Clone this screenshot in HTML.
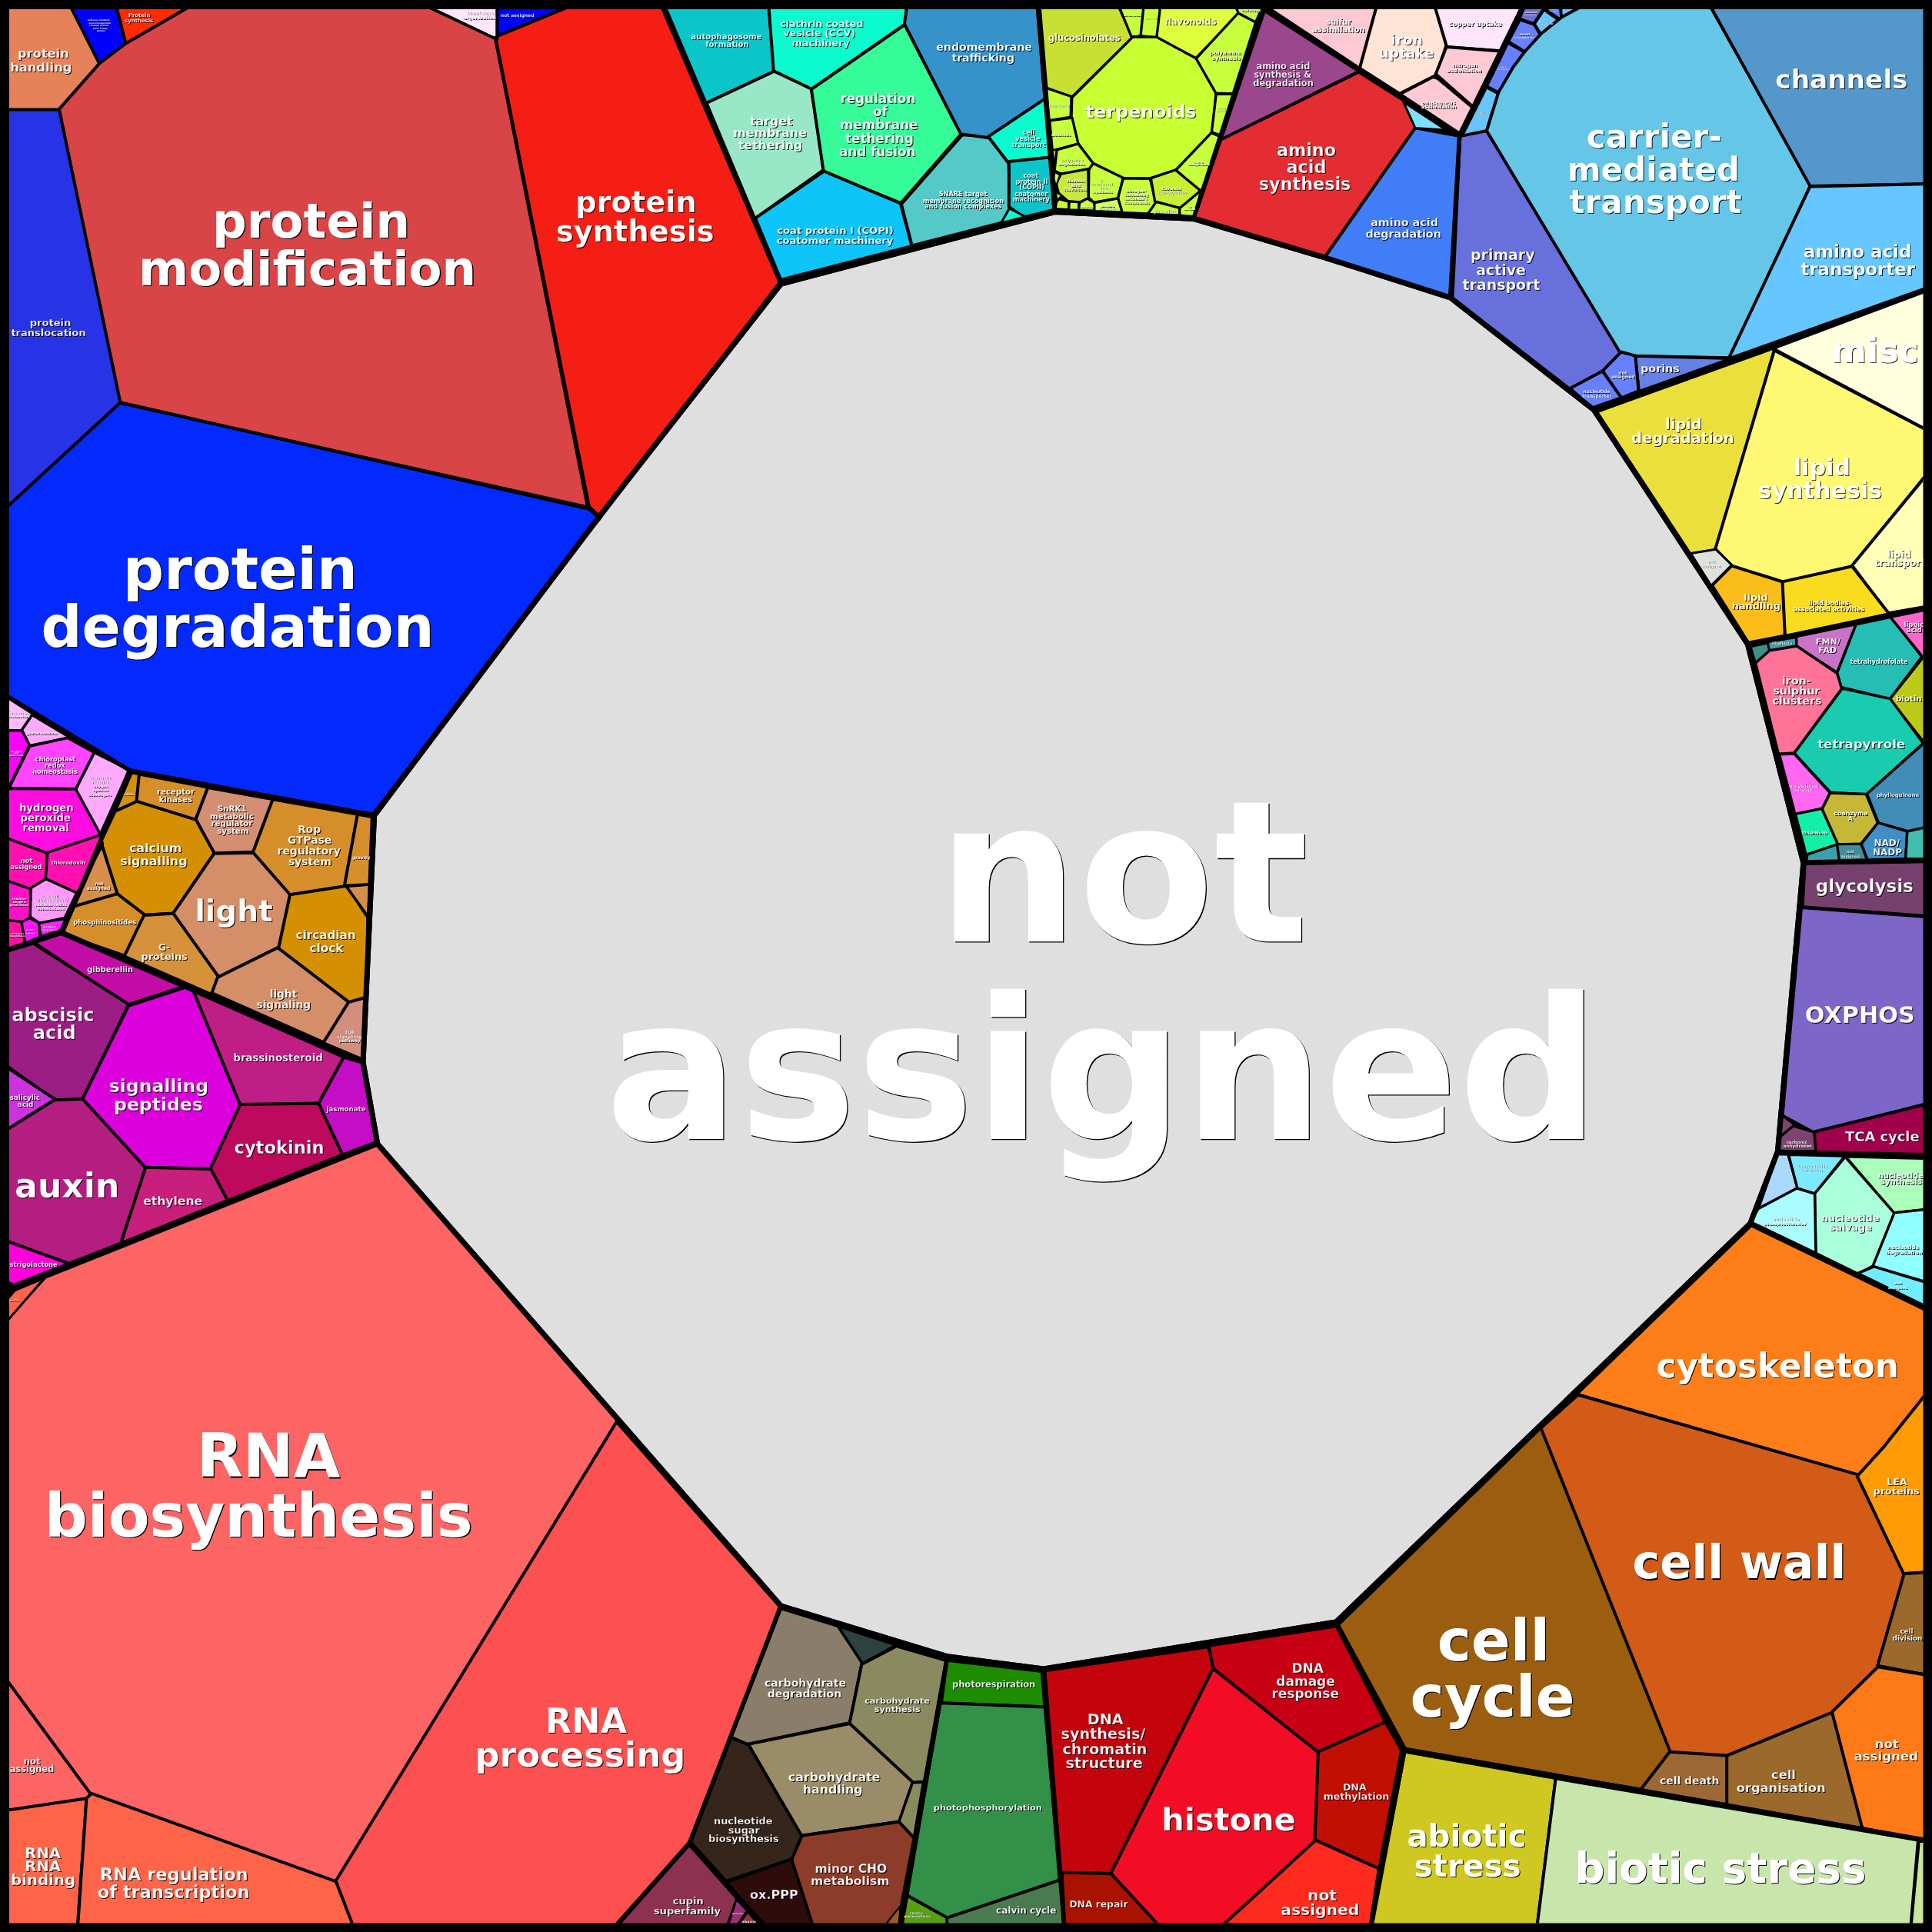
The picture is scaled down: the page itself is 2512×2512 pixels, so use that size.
<!DOCTYPE html><html><head><meta charset="utf-8"><title>treemap</title><style>html,body{margin:0;padding:0;background:#000}svg{display:block;will-change:transform}text{font-family:"DejaVu Sans","Liberation Sans",sans-serif;font-weight:bold}</style></head><body>
<svg width="2512" height="2512" viewBox="0 0 2512 2512">
<defs><clipPath id="c"><rect x="12" y="12" width="2488.5" height="2488.5"/></clipPath></defs>
<rect width="2512" height="2512" fill="#000"/>
<g clip-path="url(#c)" stroke="#000" stroke-linejoin="round">
<polygon fill="#DFDFDF" stroke-width="7" points="1015.5,369 1371.4,275.6 1551.8,284.4 1722.4,334.8 1885.6,386.8 2072.5,533.1 2272.4,837.7 2344.9,1122.1 2311.4,1497.2 2275.7,1590.8 1737.1,2108.9 1356.8,2170 1231.9,2153.8 1015.5,2088.1 490.8,1487.4 472,1381.1 486.6,1060.3 778,673"/>
<polygon fill="#E5825A" stroke-width="4" points="-20,-20 93.19,-20 93.19,10.4 131.821,81.568 77.3088,144 10.4,144 -20,144"/>
<polygon fill="#0000FF" stroke-width="4" points="92.6492,10.4 92.6492,-20 152.661,-20 152.661,10.4 164.766,58.7156 129.981,84.3123"/>
<polygon fill="#FF2A00" stroke-width="4" points="151.83,10.4 151.83,-20 243.923,-20 243.923,10.4 163.817,57.6793"/>
<polygon fill="#D94446" stroke-width="4" points="243.263,10.4 243.263,-20 561.126,-20 561.126,10.4 645.358,47.9943 769.171,664.644 155,523.361 76.54,142.427 129.332,82.4267 163.992,56.2302"/>
<polygon fill="#F51E14" stroke-width="4" points="734.902,10.4 734.902,-20 861.721,-20 861.721,10.4 1013.9,366.986 778.228,675.999 764.759,663.003 643.621,48.1787"/>
<polygon fill="#0000FF" stroke-width="4" points="646.2,10.4 646.2,-20 734.934,-20 734.934,10.5515 646.2,46.8747"/>
<polygon fill="#FFE6FA" stroke-width="4" points="559.892,10.4 559.892,-20 646.3,-20 646.3,10.4 646.3,51.258"/>
<polygon fill="#2833E5" stroke-width="4" points="-20,142.6 10.4,142.6 77.0258,142.6 156.59,524.003 10.4,658.559 -20,658.559"/>
<polygon fill="#0329FC" stroke-width="4" points="156.114,523.72 767.584,660.17 780.673,672.8 485.149,1058.58 169.98,1003.1 10.4,905.421 -20,905.421 -20,658.023 10.4,658.023"/>
<polygon fill="#0CC5C8" stroke-width="4" points="865.483,10.4 865.483,-20 1000.44,-20 1000.44,10.4 1007.21,92.2181 917.869,134.296"/>
<polygon fill="#0BFBCF" stroke-width="4" points="999.644,10.4 999.644,-20 1179.68,-20 1179.68,10.4 1175.93,32.0665 1054.68,116.111 1005.79,92.295"/>
<polygon fill="#98E8C8" stroke-width="4" points="1006.71,92.6888 1055.01,115.646 1071.57,220.313 981.418,284.278 918.615,133.901"/>
<polygon fill="#35FB98" stroke-width="4" points="1176.44,32.1613 1249.6,174.19 1171.38,264.082 1070.89,224.133 1054.94,116.061"/>
<polygon fill="#0DC5F9" stroke-width="4" points="1071.47,222.634 1170.88,264.437 1185.65,320.035 1015.21,363.87 982.133,283.663"/>
<polygon fill="#54C9C8" stroke-width="4" points="1171.9,265.372 1251.25,175.136 1284.59,177.464 1311.58,209.851 1313.31,270.285 1302.84,289.423 1185.66,319.333"/>
<polygon fill="#3593C9" stroke-width="4" points="1178.86,10.4 1178.86,-20 1348.84,-20 1348.84,10.4 1358.89,129.394 1285.79,179.288 1249.19,174.136 1175.93,31.2489"/>
<polygon fill="#0BFBCF" stroke-width="4" points="1359.11,128.047 1365.45,204.944 1311.01,211.829 1285.02,177.619"/>
<polygon fill="#0CC5C8" stroke-width="4" points="1311.9,210.104 1366.79,204.184 1370.18,272.958 1331,282.352 1311.9,269.254"/>
<polygon fill="#0BFBCF" stroke-width="3" points="1312.29,271.008 1333.28,281.635 1301.79,290.058"/>
<polygon fill="#9B478D" stroke-width="4" points="1643.33,13.2341 1767.15,92.8252 1585.75,182.743"/>
<polygon fill="#E42C33" stroke-width="4" points="1766.42,93.6134 1824.76,130.215 1841.81,165.997 1723.2,333.93 1552.45,282.521 1585.97,182.273"/>
<polygon fill="#407DF7" stroke-width="4" points="1840.2,166.196 1898.49,177.158 1887.46,387.908 1722.51,334.266"/>
<polygon fill="#7FDFFF" stroke-width="3" points="1824.59,132.403 1880.8,169.281 1840.11,166.536"/>
<polygon fill="#FFC9D4" stroke-width="4" points="1649.16,10.4 1649.16,-20 1790.13,-20 1790.13,10.4 1768.19,89.2876"/>
<polygon fill="#FFE4D6" stroke-width="4" points="1789.17,10.4 1789.17,-20 1868.67,-20 1868.67,10.4 1880.58,58.5733 1868.05,97.3041 1819.89,121.902 1767.88,88.6943"/>
<polygon fill="#FFE4FA" stroke-width="4" points="1866.13,10.2 1866.13,-20 1978.59,-20 1978.59,10.2 1951.51,66.2948 1881.07,61.0925"/>
<polygon fill="#FFC9D4" stroke-width="4" points="1880.58,60.9898 1951.1,66.5377 1915.34,139.022 1866.73,96.378"/>
<polygon fill="#FFC9D4" stroke-width="4" points="1819.27,122.687 1863.1,99.9244 1869.1,101.732 1915.5,140.339 1897.44,174.693"/>
<polygon fill="#6A6FDC" stroke-width="3.3" points="1981.61,10.55 1981.61,-20 2007.49,-20 2007.49,10.55 1994.17,30.4654 1975.79,24.2975"/>
<polygon fill="#66C6FF" stroke-width="3.3" points="2007.58,12.6673 2027.37,26.8549 2003.98,44.8051 1995.23,31.0768"/>
<polygon fill="#6680FF" stroke-width="3.3" points="2007.45,10.55 2007.45,-20 2028.7,-20 2028.7,10.55 2030.17,26.3839"/>
<polygon fill="#66C6FF" stroke-width="3.3" points="2029.54,10.55 2029.54,-20 2052.71,-20 2052.71,10.55 2030.32,22.9034"/>
<polygon fill="#6680FF" stroke-width="3.3" points="1976.19,26.0077 1994.6,31.9192 2002.84,45.6942 1983.52,67.3201 1961.31,53.9034"/>
<polygon fill="#6680FF" stroke-width="3.3" points="1960.69,55.893 1982.95,68.6469 1948.54,120.158 1933.22,112.008"/>
<polygon fill="#66C6FF" stroke-width="3.3" points="1932.79,113.629 1947.88,121.904 1932.69,170.307 1900.98,177.25"/>
<polygon fill="#6870DC" stroke-width="4" points="1898.38,177.152 1933.08,170.058 2107.52,458.603 2083.52,482.709 2041.52,506.191 1888.45,387.745"/>
<polygon fill="#66C6E8" stroke-width="4" points="2052.5,10.4 2052.5,-20 2224.87,-20 2224.87,10.4 2354.35,240.415 2249.36,465.224 2125.89,462.895 2105.39,456.796 1932.93,170.065 1948.26,120.294 1967.03,87.8955 1982.66,67.0256 2003.52,44.0408 2030.69,22.1266"/>
<polygon fill="#5397CB" stroke-width="4" points="2225.2,10.4 2225.2,-20 2532,-20 2532,239.265 2502.6,239.265 2353.53,241.921"/>
<polygon fill="#66C6FF" stroke-width="4" points="2353.42,242.428 2502.6,239.156 2532,239.156 2532,375.208 2502.6,375.208 2247.43,466.713"/>
<polygon fill="#6680E6" stroke-width="4" points="2125.54,462.749 2252.08,465.981 2131.01,509.119"/>
<polygon fill="#6680FF" stroke-width="4" points="2107.68,457.666 2126.37,462.626 2130.53,508.399 2107.55,517.658 2083.63,482.478"/>
<polygon fill="#6680FF" stroke-width="4" points="2083.51,482.399 2108.16,517.207 2070.46,530.474 2041.41,505.109"/>
<polygon fill="#EBE03B" stroke-width="4" points="2075.93,535.277 2307.91,451.893 2231.77,714.968 2197.74,720.585"/>
<polygon fill="#FFFFDD" stroke-width="4" points="2304.93,453.089 2502.6,379.015 2532,379.015 2532,557.519 2502.6,557.519"/>
<polygon fill="#FFF873" stroke-width="4" points="2306.97,455.4 2502.32,557.746 2532,557.746 2532,605.483 2514.18,605.483 2408.43,736.383 2317.8,758.482 2250.89,735.332 2230.25,713.743"/>
<polygon fill="#FFFFB8" stroke-width="4" points="2532,605.935 2514.4,605.935 2408.06,735.239 2454.54,797.587 2502.49,788.992 2532,788.992"/>
<polygon fill="#E0E0DC" stroke-width="3" points="2198.43,719.484 2230.7,714.198 2251.83,734.568 2225.04,762.013"/>
<polygon fill="#FBBD19" stroke-width="4" points="2226.06,761.016 2251.44,735.63 2318.22,756.503 2322.3,826.339 2273.13,835.618"/>
<polygon fill="#FADC1E" stroke-width="4" points="2317.52,756.413 2408.1,736.273 2456.34,798.291 2320.92,827.147"/>
<polygon fill="#3F8F88" stroke-width="3" points="2276.1,840.775 2298.62,835.924 2301.07,846.356 2282.41,862.019"/>
<polygon fill="#3F9FA8" stroke-width="3" points="2298.33,834.779 2335.7,828.423 2335.7,839.864 2300.51,845.927"/>
<polygon fill="#C873C8" stroke-width="3.5" points="2335.65,827.472 2413.41,811.538 2388.65,874.428 2335.65,840.254"/>
<polygon fill="#26BDB4" stroke-width="3.5" points="2413.21,811.782 2458.4,802.263 2498.91,853.879 2457.4,908.872 2393.58,893.356 2388.56,874.902"/>
<polygon fill="#FF66CC" stroke-width="3.5" points="2457.82,802.363 2502.35,793.256 2532,793.256 2532,857.234 2502.35,857.234"/>
<polygon fill="#BDC919" stroke-width="3.5" points="2502.35,852.183 2532,852.183 2532,966.217 2502.35,966.217 2457.07,909.2"/>
<polygon fill="#FF7399" stroke-width="3.5" points="2282.54,862.098 2300.92,845.754 2336.21,840.062 2388.7,875.602 2394.63,895.538 2332.82,979.102 2312.36,980.226"/>
<polygon fill="#19CCB0" stroke-width="3.5" points="2395.27,895.153 2457.71,908.527 2500.65,966.334 2426.83,1032.89 2379.89,1030.21 2332.93,979.221"/>
<polygon fill="#FF66F2" stroke-width="3.5" points="2313.45,980.632 2332.64,979.921 2379.5,1030.8 2368.87,1052.17 2333.92,1058.41"/>
<polygon fill="#C4B836" stroke-width="3.5" points="2379.64,1030.91 2426.39,1032.59 2441.82,1070.41 2419.54,1097.13 2388.35,1097.88 2368.97,1052.14"/>
<polygon fill="#428CB8" stroke-width="3.5" points="2427.32,1032.21 2502.35,965.398 2532,965.398 2532,1076.3 2502.35,1076.3 2481.35,1081.01 2442.39,1069.85"/>
<polygon fill="#14EFA8" stroke-width="3.5" points="2334.34,1058.36 2368.72,1051.2 2389.59,1097.76 2348.28,1111.34"/>
<polygon fill="#3F8FC6" stroke-width="3.5" points="2441.76,1069.68 2480.03,1081.12 2477.85,1116.6 2428.23,1117.98 2420,1097.41"/>
<polygon fill="#40BFB0" stroke-width="3.5" points="2479.73,1080.97 2502.35,1076.03 2532,1076.03 2532,1116.65 2502.35,1116.65 2477.64,1116.65"/>
<polygon fill="#3F8F98" stroke-width="3" points="2388.7,1097.84 2419.73,1097.18 2427.33,1117.64 2391.39,1118.74"/>
<polygon fill="#3F9FA8" stroke-width="3" points="2350.07,1111.17 2388.44,1097.99 2391.21,1118.66 2348.62,1119.75"/>
<polygon fill="#76416F" stroke-width="4" points="2346.92,1122.73 2502.6,1120.07 2532,1120.07 2532,1190.85 2502.6,1190.85 2343.48,1179.15"/>
<polygon fill="#7C66C8" stroke-width="4" points="2342.09,1180.06 2502.6,1191.74 2532,1191.74 2532,1435.65 2502.6,1435.65 2358.34,1472.63 2317.49,1450.53"/>
<polygon fill="#A0004C" stroke-width="4" points="2359.16,1471.54 2502.6,1436.15 2532,1436.15 2532,1501.15 2502.6,1501.15 2359.85,1497.86"/>
<polygon fill="#7E4470" stroke-width="3" points="2331.56,1464.03 2358.39,1471.95 2360.86,1496.4 2313.04,1496.4 2314.87,1477.94"/>
<polygon fill="#7E4470" stroke-width="3" points="2316.61,1449.86 2333.33,1462.34 2314.55,1477.78"/>
<polygon fill="#AAD8FF" stroke-width="3.5" points="2311.16,1500.65 2324.82,1500.65 2337.26,1544.55 2285.51,1573.49"/>
<polygon fill="#7EE8FF" stroke-width="3.5" points="2325.42,1501.19 2398.53,1503.04 2359.83,1552.23 2336.95,1545.08"/>
<polygon fill="#AAFFBB" stroke-width="3.5" points="2399.51,1503.76 2502.35,1506.19 2532,1506.19 2532,1572.88 2502.35,1572.88 2462.47,1577.04"/>
<polygon fill="#AAFFDD" stroke-width="3.5" points="2399.17,1504.2 2463.02,1577.45 2436.39,1645.66 2415.51,1656.15 2360.77,1629.3 2359.44,1551.78"/>
<polygon fill="#AAFCFF" stroke-width="3.5" points="2336.32,1545.02 2359.63,1552.1 2361,1629.4 2276.49,1588.99 2285.81,1571.6"/>
<polygon fill="#90FFFF" stroke-width="3.5" points="2462.97,1576.87 2502.35,1572.65 2532,1572.65 2532,1666.23 2502.35,1666.23 2434.85,1646.54"/>
<polygon fill="#70EEFF" stroke-width="3.5" points="2436.51,1646.84 2502.35,1666.9 2532,1666.9 2532,1697.59 2502.35,1697.59 2415.44,1655.69"/>
<polygon fill="#FD7E18" stroke-width="4" points="2276.91,1593.29 2502.6,1702.65 2532,1702.65 2532,1816.38 2502.6,1816.38 2449.51,1885.32 2416.08,1918.75 2049.83,1812.76"/>
<polygon fill="#D25B18" stroke-width="4" points="2002.52,1857.44 2051.89,1813.47 2415.91,1917.42 2477.03,2044.72 2442.28,2167.15 2382.43,2227 2244.53,2283.22 2170.31,2278.62"/>
<polygon fill="#9B5E10" stroke-width="4" points="1739.53,2112.81 2003.35,1856.38 2171.68,2277.62 2133.55,2326.57 1825.19,2275.91"/>
<polygon fill="#FF9B05" stroke-width="4" points="2502.6,1814.28 2532,1814.28 2532,2044.5 2502.6,2044.5 2474.97,2045.97 2414.72,1919.45 2448.08,1882.7"/>
<polygon fill="#9B692C" stroke-width="4" points="2475.67,2046.31 2502.6,2044.35 2532,2044.35 2532,2177.31 2502.6,2177.31 2441.17,2165.76"/>
<polygon fill="#FD7A16" stroke-width="4" points="2441.72,2167.26 2502.6,2177.41 2532,2177.41 2532,2391.89 2502.6,2391.89 2420.38,2377.24 2381.68,2226.28"/>
<polygon fill="#9B692C" stroke-width="4" points="2244.4,2283.16 2382.06,2226.48 2421.42,2377.29 2244.4,2347.29"/>
<polygon fill="#9B6836" stroke-width="4" points="2170.76,2277.84 2245.2,2282.62 2245.2,2346.25 2132.28,2328.14"/>
<polygon fill="#CEC820" stroke-width="4" points="1826.5,2277.59 2022.72,2312.06 1998.87,2502.6 1998.87,2532 1784.09,2532 1784.09,2502.6"/>
<polygon fill="#C8E6AC" stroke-width="4" points="2022.68,2312.38 2493.95,2392.64 2484.54,2502.6 2484.54,2532 1998.73,2532 1998.73,2502.6"/>
<polygon fill="#C8E69C" stroke-width="3" points="2495.33,2394.5 2502.1,2394.5 2532,2394.5 2532,2532 2485.35,2532 2485.35,2502.1"/>
<polygon fill="#C4040C" stroke-width="4" points="1358.56,2172.19 1571.21,2141.16 1578.32,2170.24 1445.72,2436.03 1379.25,2434.66"/>
<polygon fill="#C80014" stroke-width="4" points="1571.52,2139.74 1737.52,2114.2 1801.54,2239.25 1714.01,2279.03 1577.58,2169.51"/>
<polygon fill="#F20D24" stroke-width="4" points="1577.11,2169.5 1714.73,2278.96 1711.37,2392.6 1591.58,2502.6 1591.58,2532 1505.43,2532 1505.43,2502.6 1443.79,2436.95"/>
<polygon fill="#C20F04" stroke-width="4" points="1713.95,2277.57 1801.34,2239.04 1822.1,2275.34 1793.2,2430.38 1709.65,2392.37"/>
<polygon fill="#FD2A1E" stroke-width="4" points="1710.72,2392.64 1792.91,2429.5 1781.72,2502.6 1781.72,2532 1590.55,2532 1590.55,2502.6"/>
<polygon fill="#AA1200" stroke-width="4" points="1380.69,2434.54 1444.8,2436.22 1505.96,2502.6 1505.96,2532 1384.1,2532 1384.1,2502.6"/>
<polygon fill="#1E8C00" stroke-width="4" points="1231.49,2158.69 1354.77,2173.11 1358.26,2219.28 1223.82,2214.22"/>
<polygon fill="#329048" stroke-width="4" points="1222.84,2214.13 1358.64,2219.47 1377.73,2444.5 1231.7,2493.38 1178.38,2463.65"/>
<polygon fill="#58A010" stroke-width="3" points="1176.02,2463.38 1230.8,2493.51 1230.8,2502.1 1230.8,2532 1172.46,2532 1172.46,2502.1"/>
<polygon fill="#4A7A50" stroke-width="3.5" points="1378.47,2444.63 1382.99,2502.35 1382.99,2532 1231.45,2532 1231.45,2502.35 1231.45,2493.84"/>
<polygon fill="#8A7E6A" stroke-width="4" points="1015.21,2091.24 1090.89,2114.71 1120.92,2161.5 1104.9,2239.99 972.406,2267.99 950.532,2258.9"/>
<polygon fill="#2C423E" stroke-width="3.5" points="1089.31,2114.21 1165.47,2138.77 1121.53,2163.22"/>
<polygon fill="#8A8A60" stroke-width="4" points="1165.79,2140.26 1229.99,2158.88 1201.8,2316.58 1186.39,2317.76 1104.31,2242.31 1120.33,2163.86"/>
<polygon fill="#9A8C68" stroke-width="4" points="972.678,2267.79 1104.81,2241.04 1186.82,2317.32 1169.09,2368.51 1041.34,2386.77"/>
<polygon fill="#8A8A60" stroke-width="3.5" points="1186.43,2317.93 1200.59,2317.01 1188.23,2390.03 1168.81,2368.71"/>
<polygon fill="#36251A" stroke-width="4" points="950.267,2259.07 973.288,2268.61 1042.43,2387.05 1030,2417.1 944.303,2446.01 898.091,2395.44"/>
<polygon fill="#8E3C2A" stroke-width="4" points="1042.71,2386.68 1168.95,2368.77 1188.55,2389.78 1172.78,2472.6 1169.39,2502.6 1169.39,2532 1055.64,2532 1055.64,2502.6 1028.97,2418.59"/>
<polygon fill="#2E0C0C" stroke-width="4" points="944.825,2447.08 1029.07,2417.12 1056.54,2502.6 1056.54,2532 991.164,2532 991.164,2502.6"/>
<polygon fill="#A05A2A" stroke-width="2.5" points="1160.12,2491.03 1170.79,2478.25 1168.75,2501.85 1168.75,2532 1152.12,2532 1152.12,2501.85"/>
<polygon fill="#8C3250" stroke-width="4" points="896.197,2398.49 958.586,2468.66 946.303,2502.6 946.303,2532 803.956,2532 803.956,2502.6"/>
<polygon fill="#963270" stroke-width="3" points="957.441,2469.12 971.616,2484.15 959.396,2502.2 959.396,2532 946.951,2532 946.951,2502.2"/>
<polygon fill="#963240" stroke-width="3" points="972.199,2485.57 986.345,2502.2 986.345,2532 960.28,2532 960.28,2502.2"/>
<polygon fill="#FD6464" stroke-width="4" points="58.9351,1660.61 491.379,1488.32 804.471,1848.79 438.057,2447.13 117.351,2332.58 10.4,2186.96 -20,2186.96 -20,1713.52 10.4,1713.52"/>
<polygon fill="#FD6464" stroke-width="4" points="-20,2186.71 10.4,2186.71 117.855,2332.56 113.254,2339.25 10.4,2354.42 -20,2354.42"/>
<polygon fill="#FD6448" stroke-width="4" points="-20,2353.58 10.4,2353.58 112.672,2338.35 100.962,2502.6 100.962,2532 -20,2532"/>
<polygon fill="#FD6448" stroke-width="4" points="112.458,2338.18 119.122,2331.9 437.122,2446.42 459.657,2502.6 459.657,2532 101.259,2532 101.259,2502.6"/>
<polygon fill="#FD5050" stroke-width="4" points="801.707,1848.65 1013.89,2088.98 950.066,2260.12 896.229,2395.36 801.2,2502.6 801.2,2532 458.526,2532 458.526,2502.6 436.579,2445.5"/>
<polygon fill="#FF6448" stroke-width="3" points="-20,1687.54 10.9,1687.54 19.6011,1677.55 57.8019,1661.79 10.9,1715.71 -20,1715.71"/>
<polygon fill="#C40DA6" stroke-width="4" points="44.3448,1225.68 79.599,1214.16 238.353,1282.87 166.201,1306.3"/>
<polygon fill="#9C1E84" stroke-width="4" points="-20,1236.31 10.4,1236.31 43.4082,1226.52 167.371,1305.87 108.095,1428.92 72.3193,1431.24 10.4,1387.13 -20,1387.13"/>
<polygon fill="#CC33DD" stroke-width="4" points="-20,1388.78 10.4,1388.78 72.5788,1429.94 10.4,1469.33 -20,1469.33"/>
<polygon fill="#DC00DC" stroke-width="4" points="166.979,1307.96 240.618,1283.76 253.447,1289.61 313.583,1434.85 274.266,1519.73 188.314,1517.98 106.494,1430.25"/>
<polygon fill="#BE1E85" stroke-width="4" points="251.467,1288.58 447.493,1374.64 414.702,1435.18 312.368,1436.82"/>
<polygon fill="#C40DC4" stroke-width="4" points="446.917,1374.52 471.461,1381.84 489.15,1484.78 444.978,1501.63 413.86,1435.33"/>
<polygon fill="#BE0A5C" stroke-width="4" points="312.415,1436.02 414.063,1434.38 445.408,1501.47 295.479,1561.42 273.366,1519.96"/>
<polygon fill="#C81E7C" stroke-width="4" points="188.765,1517.86 274.217,1519.93 296.011,1560.93 156.054,1617.06"/>
<polygon fill="#B41E80" stroke-width="4" points="-20,1467.79 10.4,1467.79 70.2914,1430.22 107.451,1428.87 189.163,1518.11 157.011,1616.71 90.4432,1643.34 10.4,1615.01 -20,1615.01"/>
<polygon fill="#FF00DC" stroke-width="4" points="-20,1613.94 10.4,1613.94 90.8147,1643.43 19.4366,1671.68 10.4,1667.48 -20,1667.48"/>
<polygon fill="#D49008" stroke-width="3.5" points="171.25,1004.71 182.297,1006.89 178.848,1041.92 148.566,1057.6"/>
<polygon fill="#D68E2B" stroke-width="4" points="180.925,1006.63 270.943,1023.68 254.091,1066.64 177.247,1043.85"/>
<polygon fill="#D48E72" stroke-width="4" points="270.115,1023.94 355.416,1039.26 329.703,1107.75 276.724,1109.54 253.908,1066.94"/>
<polygon fill="#D68E2B" stroke-width="4" points="354.608,1039.24 465.525,1058.68 448.616,1152.45 376.315,1163.85 328.611,1108.81"/>
<polygon fill="#D68E2B" stroke-width="4" points="464.787,1058.7 483.765,1061.92 480.43,1149.99 447.776,1151.84"/>
<polygon fill="#D48F02" stroke-width="4" points="177.965,1041.96 254.865,1065.83 278.643,1109.21 225.401,1187.44 187.293,1189.74 150.36,1162.3 131.173,1094.23 149.601,1054.89"/>
<polygon fill="#D48E68" stroke-width="4" points="278.43,1109.72 329.189,1108.68 377.566,1163.73 362.55,1233.98 283.732,1271.53 225.068,1187.71"/>
<polygon fill="#D68E4B" stroke-width="4" points="131.892,1096.92 152.712,1162.4 95.5111,1180.54"/>
<polygon fill="#D68E2B" stroke-width="4" points="152.517,1162.1 188.388,1189.69 163.553,1243.18 80.1601,1214.27 96.7661,1178.23"/>
<polygon fill="#D6913B" stroke-width="4" points="187.207,1190.08 225.281,1187.63 284.309,1270.25 276.834,1293.82 161.496,1243.3"/>
<polygon fill="#D48F02" stroke-width="4" points="377.033,1163.23 451.167,1151.73 478.21,1193.02 477.199,1256.07 474.917,1298.18 452.95,1303.67 361.879,1234.02"/>
<polygon fill="#D48E4B" stroke-width="3.5" points="450.164,1152.39 480.321,1150.11 478.759,1192.28"/>
<polygon fill="#D48E68" stroke-width="4" points="282.796,1270.86 361.027,1232.16 454.488,1303.64 420.747,1355.42 275.379,1291.17"/>
<polygon fill="#D48E7E" stroke-width="4" points="453.112,1303.08 474.083,1297.24 471.61,1377.57 420.265,1356.04"/>
<polygon fill="#FFBBFF" stroke-width="3.5" points="-20,907.616 10.65,907.616 43.0488,928.182 28.5366,949.95 10.65,949.95 -20,949.95"/>
<polygon fill="#FFAAFF" stroke-width="3.5" points="41.7904,929.562 90.8682,958.695 38.0464,969.686 27.8667,949.662"/>
<polygon fill="#FF00FF" stroke-width="3.5" points="-20,949.65 10.65,949.65 28.6732,949.65 38.3543,968.682 10.65,1025.71 -20,1025.71"/>
<polygon fill="#FF44FF" stroke-width="3.5" points="38.5005,970.374 88.0652,959.348 122.628,978.384 98.5664,1025.66 11.8048,1024.62"/>
<polygon fill="#FFAAFF" stroke-width="3.5" points="122.721,978.356 168.086,1000.98 130.159,1085.31 98.122,1027.24"/>
<polygon fill="#FF0CE0" stroke-width="3.5" points="-20,1025.44 10.65,1025.44 98.545,1026.06 130.926,1085.68 61.7835,1109.36 10.65,1090.83 -20,1090.83"/>
<polygon fill="#FF10B0" stroke-width="3.5" points="-20,1090.27 10.65,1090.27 61.9139,1109.51 60.2022,1142.57 39.2302,1156.55 10.65,1146.02 -20,1146.02"/>
<polygon fill="#FF10B0" stroke-width="3.5" points="61.7388,1108.41 130.685,1085.63 133.449,1097.94 99.8694,1161.8 59.2682,1142.67"/>
<polygon fill="#FF99FF" stroke-width="3.5" points="59.997,1142.83 99.8551,1160.84 84.1028,1193.54 51.6409,1200.36 37.9251,1191.22 38.8763,1155.18"/>
<polygon fill="#FF10C8" stroke-width="3.5" points="-20,1145.63 10.65,1145.63 40.186,1155.97 39.1265,1192.84 28.1481,1201.92 10.65,1200.08 -20,1200.08"/>
<polygon fill="#FF10A0" stroke-width="3.3" points="-20,1196.58 10.75,1196.58 27.9216,1198.28 32.4516,1225.68 10.75,1233.55 -20,1233.55"/>
<polygon fill="#FF10FF" stroke-width="3.3" points="38.3909,1193.77 50.4522,1199.51 52.2611,1218.17 32.727,1226.1 27.9608,1198.86"/>
<polygon fill="#FF20FF" stroke-width="3.3" points="50.2834,1200.04 85.5081,1194.29 79.0197,1209.34 53.4063,1217.65"/>
<polygon fill="#C8E033" stroke-width="3.3" points="1352.31,10.75 1352.31,-20 1455.35,-20 1455.35,10.75 1472.79,48.3605 1393.42,126.506 1360.84,114.69"/>
<polygon fill="#C8FF3C" stroke-width="3.3" points="1455.94,10.75 1455.94,-20 1487.25,-20 1487.25,10.75 1483.1,46.5121 1471.48,48.5549"/>
<polygon fill="#C8FF3C" stroke-width="3.3" points="1486.71,10.75 1486.71,-20 1509.16,-20 1509.16,10.75 1504.54,49.0273 1483.1,46.5527"/>
<polygon fill="#DFFF3C" stroke-width="3.3" points="1508.33,10.75 1508.33,-20 1608.68,-20 1608.68,10.75 1611.09,17.8253 1554.82,75.7343 1503.83,48.933"/>
<polygon fill="#C8F540" stroke-width="3.3" points="1607.61,10.75 1607.61,-20 1640.64,-20 1640.64,10.75 1632.29,29.5967 1610.28,17.762"/>
<polygon fill="#C8FF3C" stroke-width="3.3" points="1609.95,16.9486 1632.69,28.9865 1603.2,121.78 1580.83,121.227 1554.96,76.2696"/>
<polygon fill="#C8FF33" stroke-width="3.3" points="1473.12,47.743 1503.52,48.0543 1554.9,75.7714 1580.99,121.331 1576.49,171.324 1528.91,220.938 1495.96,231.852 1459.7,231.547 1420.91,211.999 1401.38,185.921 1393.04,152.174 1393.87,126.793"/>
<polygon fill="#C8FF3C" stroke-width="3.3" points="1581.23,122.25 1603.16,122.25 1586.14,175.762 1575.41,171.686"/>
<polygon fill="#C8FF3C" stroke-width="3.3" points="1575.09,172.734 1585.54,177.173 1561.9,249.669 1528.91,221.217"/>
<polygon fill="#C8FF3C" stroke-width="3.3" points="1360.54,114.418 1392.99,125.535 1392.1,152.102 1364.21,156.826"/>
<polygon fill="#C8FF3C" stroke-width="3.3" points="1364.71,156.762 1393.96,153.078 1401.98,186.984 1368.34,195.894"/>
<polygon fill="#D4B820" stroke-width="1.5" points="1368.64,195.55 1373.91,195.55 1371.85,215.627"/>
<polygon fill="#C8FF3C" stroke-width="3.3" points="1374.08,195.024 1401.93,186.898 1421.59,212.831 1415.38,220.532 1379.55,226.108 1371.03,222.089"/>
<polygon fill="#C8E83C" stroke-width="3.3" points="1379.52,226.223 1414.82,219.618 1415.36,257.421 1403.21,263.388 1389.02,261.991 1376.33,251.011 1373.04,238.288"/>
<polygon fill="#C8FF3C" stroke-width="3.3" points="1421.44,212.393 1460.33,231.303 1453.64,257.847 1422.26,263.165 1415.34,256.6 1415.86,220.58"/>
<polygon fill="#C8FF3C" stroke-width="3.3" points="1460.43,231.834 1495.29,232.266 1503.3,263.769 1492.39,277.987 1458.86,276.497 1453.39,258.43"/>
<polygon fill="#C8F033" stroke-width="3.3" points="1496.33,231.582 1528.35,220.946 1561.6,248.408 1533.37,271.426 1501.65,262.197"/>
<polygon fill="#C8FF3C" stroke-width="3.3" points="1503.29,262.307 1533.81,270.344 1533.38,280.012 1492.37,278.435"/>
<polygon fill="#C8FF3C" stroke-width="3.3" points="1533.75,270.831 1562.01,247.12 1552.42,281.656 1533.75,280.12"/>
<polygon fill="#C8FF3C" stroke-width="3.3" points="1374.26,257.922 1389.65,262.142 1389.65,272.547 1372.08,271.543"/>
<polygon fill="#C8FF3C" stroke-width="3.3" points="1390.14,261.966 1402.89,262.63 1403.32,273.301 1389.56,272.9"/>
<polygon fill="#C8FF3C" stroke-width="3.3" points="1403.29,263.688 1413.75,258.103 1423.65,264.068 1423.65,274.238 1402.88,273.163"/>
<polygon fill="#D0FF60" stroke-width="3.3" points="1422.85,263.632 1453.76,257.801 1459.02,275.827 1422.85,274.595"/>
<polygon fill="#C8FF3C" stroke-width="2.5" points="1371.3,223.168 1378.31,227.688 1372.87,242.845 1370.23,231.974"/>
<polygon fill="#C8FF3C" stroke-width="2.5" points="1372.12,249.351 1380.2,253.757 1375.06,261.467"/>
</g>
<g clip-path="url(#c)" stroke="#000" fill="none" stroke-linejoin="round" stroke-linecap="round">
<polyline stroke-width="4" points="644.3,48.8 766.6,662"/>
<polyline stroke-width="4" points="156.7,523.3 766.6,662"/>
<polyline stroke-width="4" points="766.6,662 778,673"/>
<polyline stroke-width="7" points="1015.5,369 1371.4,275.6 1551.8,284.4 1722.4,334.8 1885.6,386.8 2072.5,533.1 2272.4,837.7 2344.9,1122.1 2311.4,1497.2 2275.7,1590.8 1737.1,2108.9 1356.8,2170 1231.9,2153.8 1015.5,2088.1 490.8,1487.4 472,1381.1 486.6,1060.3 778,673 1015.5,369"/>
<polyline stroke-width="5.5" points="1015.5,369 852.854,-10.5793"/>
<polyline stroke-width="5.5" points="1371.4,275.6 1347.54,-12.5147"/>
<polyline stroke-width="5.5" points="1551.8,284.4 1651.5,-10.6846"/>
<polyline stroke-width="5.5" points="1629.18,-0.838346 1765.4,89.7 1825.5,126.8 1898.3,174.9"/>
<polyline stroke-width="5.5" points="1897.7,175.5 1988.6,-10.0508"/>
<polyline stroke-width="5.5" points="1897.7,175.5 1885.6,386.8"/>
<polyline stroke-width="5.5" points="2072.5,533.1 2524.12,370.218"/>
<polyline stroke-width="5.5" points="2272.4,837.7 2525.1,786.208"/>
<polyline stroke-width="5.5" points="2344.9,1122.1 2525.6,1119.08"/>
<polyline stroke-width="5.5" points="2311.4,1497.2 2525.59,1503.09"/>
<polyline stroke-width="5.5" points="2275.7,1590.8 2523.06,1711.68"/>
<polyline stroke-width="5.5" points="1737.1,2108.9 1826.5,2274.1 2525.23,2396"/>
<polyline stroke-width="5.5" points="1826.5,2274.1 1778.51,2525.16"/>
<polyline stroke-width="5.5" points="1356.8,2170 1385.41,2525.52"/>
<polyline stroke-width="5.5" points="1231.9,2153.8 1168.28,2525.24"/>
<polyline stroke-width="5.5" points="1015.5,2088.1 896.2,2396.9 786.839,2519.24"/>
<polyline stroke-width="5.5" points="896.2,2396.9 1008.31,2519.02"/>
<polyline stroke-width="5.5" points="490.8,1487.4 -10.8959,1682.77"/>
<polyline stroke-width="5.5" points="472,1381.1 81.2,1212.2 -11.462,1241.16"/>
<polyline stroke-width="5.5" points="81.2,1212.2 168.4,1001.8"/>
<polyline stroke-width="5.5" points="486.6,1060.3 169,1001.8 -8.9805,893.943"/>
</g>
<g clip-path="url(#c)">
<text x="1220.4" y="1225.6" font-size="257.1" fill="#000">not</text>
<text x="788.3" y="1482.3" font-size="257.1" fill="#000">assigned</text>
<text x="1219.1" y="1224.3" font-size="257.1" fill="#fff">not</text>
<text x="787.0" y="1481.0" font-size="257.1" fill="#fff">assigned</text>
<text x="23.8" y="76.4" font-size="16.3" fill="#000">protein</text>
<text x="14.2" y="93.6" font-size="16.3" fill="#000">handling</text>
<text x="22.8" y="75.4" font-size="16.3" fill="#fff" stroke="#E5825A" stroke-width="0.3">protein</text>
<text x="13.2" y="92.6" font-size="16.3" fill="#fff" stroke="#E5825A" stroke-width="0.3">handling</text>
<text x="277.2" y="310.1" font-size="62.6" fill="#000">protein</text>
<text x="181.3" y="371.9" font-size="62.6" fill="#000">modification</text>
<text x="275.9" y="308.8" font-size="62.6" fill="#fff">protein</text>
<text x="180.0" y="370.6" font-size="62.6" fill="#fff">modification</text>
<text x="39.8" y="424.5" font-size="13.0" fill="#000">protein</text>
<text x="15.4" y="437.5" font-size="13.0" fill="#000">translocation</text>
<text x="38.8" y="423.5" font-size="13.0" fill="#fff" stroke="#2833E5" stroke-width="0.3">protein</text>
<text x="14.4" y="436.5" font-size="13.0" fill="#fff" stroke="#2833E5" stroke-width="0.3">translocation</text>
<text x="167.9" y="23.1" font-size="6.9" fill="#000">Protein</text>
<text x="163.2" y="29.6" font-size="6.9" fill="#000">synthesis</text>
<text x="166.9" y="22.1" font-size="6.9" fill="#fff" stroke="#FF2A00" stroke-width="0.17">Protein</text>
<text x="162.2" y="28.6" font-size="6.9" fill="#fff" stroke="#FF2A00" stroke-width="0.17">synthesis</text>
<text x="651.9" y="23.1" font-size="6.0" fill="#000">not assigned</text>
<text x="650.9" y="22.1" font-size="6.0" fill="#fff" stroke="#0000FF" stroke-width="0.15">not assigned</text>
<text x="749.2" y="276.6" font-size="38.4" fill="#000">protein</text>
<text x="723.9" y="314.7" font-size="38.4" fill="#000">synthesis</text>
<text x="748.2" y="275.6" font-size="38.4" fill="#fff" stroke="#F51E14" stroke-width="0.3">protein</text>
<text x="722.9" y="313.7" font-size="38.4" fill="#fff" stroke="#F51E14" stroke-width="0.3">synthesis</text>
<text x="899.3" y="52.4" font-size="10.2" fill="#000">autophagosome</text>
<text x="918.2" y="62.1" font-size="10.2" fill="#000">formation</text>
<text x="898.3" y="51.4" font-size="10.2" fill="#fff" stroke="#0CC5C8" stroke-width="0.26">autophagosome</text>
<text x="917.2" y="61.1" font-size="10.2" fill="#fff" stroke="#0CC5C8" stroke-width="0.26">formation</text>
<text x="1015.2" y="36.1" font-size="12.7" fill="#000">clathrin coated</text>
<text x="1019.3" y="48.1" font-size="12.7" fill="#000">vesicle (CCV)</text>
<text x="1030.6" y="60.5" font-size="12.7" fill="#000">machinery</text>
<text x="1014.2" y="35.1" font-size="12.7" fill="#fff" stroke="#0BFBCF" stroke-width="0.3">clathrin coated</text>
<text x="1018.3" y="47.1" font-size="12.7" fill="#fff" stroke="#0BFBCF" stroke-width="0.3">vesicle (CCV)</text>
<text x="1029.6" y="59.5" font-size="12.7" fill="#fff" stroke="#0BFBCF" stroke-width="0.3">machinery</text>
<text x="975.9" y="163.5" font-size="15.8" fill="#000">target</text>
<text x="954.3" y="179.1" font-size="15.8" fill="#000">membrane</text>
<text x="960.8" y="195.1" font-size="15.8" fill="#000">tethering</text>
<text x="974.9" y="162.5" font-size="15.8" fill="#fff" stroke="#98E8C8" stroke-width="0.3">target</text>
<text x="953.3" y="178.1" font-size="15.8" fill="#fff" stroke="#98E8C8" stroke-width="0.3">membrane</text>
<text x="959.8" y="194.1" font-size="15.8" fill="#fff" stroke="#98E8C8" stroke-width="0.3">tethering</text>
<text x="1093.4" y="134.9" font-size="16.8" fill="#000">regulation</text>
<text x="1136.1" y="152.1" font-size="16.8" fill="#000">of</text>
<text x="1093.0" y="169.4" font-size="16.8" fill="#000">membrane</text>
<text x="1100.0" y="186.9" font-size="16.8" fill="#000">tethering</text>
<text x="1091.9" y="203.5" font-size="16.8" fill="#000">and fusion</text>
<text x="1092.4" y="133.9" font-size="16.8" fill="#fff" stroke="#35FB98" stroke-width="0.3">regulation</text>
<text x="1135.1" y="151.1" font-size="16.8" fill="#fff" stroke="#35FB98" stroke-width="0.3">of</text>
<text x="1092.0" y="168.4" font-size="16.8" fill="#fff" stroke="#35FB98" stroke-width="0.3">membrane</text>
<text x="1099.0" y="185.9" font-size="16.8" fill="#fff" stroke="#35FB98" stroke-width="0.3">tethering</text>
<text x="1090.9" y="202.5" font-size="16.8" fill="#fff" stroke="#35FB98" stroke-width="0.3">and fusion</text>
<text x="1011.3" y="304.9" font-size="13.1" fill="#000">coat protein I (COPI)</text>
<text x="1010.7" y="317.9" font-size="13.1" fill="#000">coatomer machinery</text>
<text x="1010.3" y="303.9" font-size="13.1" fill="#fff" stroke="#0DC5F9" stroke-width="0.3">coat protein I (COPI)</text>
<text x="1009.7" y="316.9" font-size="13.1" fill="#fff" stroke="#0DC5F9" stroke-width="0.3">coatomer machinery</text>
<text x="1221.7" y="256.2" font-size="8.2" fill="#000">SNARE target</text>
<text x="1201.0" y="264.9" font-size="8.2" fill="#000">membrane recognition</text>
<text x="1203.1" y="272.4" font-size="8.2" fill="#000">and fusion complexes</text>
<text x="1220.7" y="255.2" font-size="8.2" fill="#fff" stroke="#54C9C8" stroke-width="0.2">SNARE target</text>
<text x="1200.0" y="263.9" font-size="8.2" fill="#fff" stroke="#54C9C8" stroke-width="0.2">membrane recognition</text>
<text x="1202.1" y="271.4" font-size="8.2" fill="#fff" stroke="#54C9C8" stroke-width="0.2">and fusion complexes</text>
<text x="1218.3" y="67.0" font-size="14.1" fill="#000">endomembrane</text>
<text x="1238.4" y="80.6" font-size="14.1" fill="#000">trafficking</text>
<text x="1217.3" y="66.0" font-size="14.1" fill="#fff" stroke="#3593C9" stroke-width="0.3">endomembrane</text>
<text x="1237.4" y="79.6" font-size="14.1" fill="#fff" stroke="#3593C9" stroke-width="0.3">trafficking</text>
<text x="1330.3" y="175.6" font-size="8.3" fill="#000">cell</text>
<text x="1321.2" y="183.7" font-size="8.3" fill="#000">vesicle</text>
<text x="1316.4" y="191.8" font-size="8.3" fill="#000">transport</text>
<text x="1329.3" y="174.6" font-size="8.3" fill="#fff" stroke="#0BFBCF" stroke-width="0.21">cell</text>
<text x="1320.2" y="182.7" font-size="8.3" fill="#fff" stroke="#0BFBCF" stroke-width="0.21">vesicle</text>
<text x="1315.4" y="190.8" font-size="8.3" fill="#fff" stroke="#0BFBCF" stroke-width="0.21">transport</text>
<text x="1331.5" y="232.4" font-size="8.1" fill="#000">coat</text>
<text x="1321.4" y="239.9" font-size="8.1" fill="#000">protein II</text>
<text x="1326.5" y="247.4" font-size="8.1" fill="#000">(COPII)</text>
<text x="1320.2" y="255.5" font-size="8.1" fill="#000">coatomer</text>
<text x="1318.1" y="262.7" font-size="8.1" fill="#000">machinery</text>
<text x="1330.5" y="231.4" font-size="8.1" fill="#fff" stroke="#0CC5C8" stroke-width="0.2">coat</text>
<text x="1320.4" y="238.9" font-size="8.1" fill="#fff" stroke="#0CC5C8" stroke-width="0.2">protein II</text>
<text x="1325.5" y="246.4" font-size="8.1" fill="#fff" stroke="#0CC5C8" stroke-width="0.2">(COPII)</text>
<text x="1319.2" y="254.5" font-size="8.1" fill="#fff" stroke="#0CC5C8" stroke-width="0.2">coatomer</text>
<text x="1317.1" y="261.7" font-size="8.1" fill="#fff" stroke="#0CC5C8" stroke-width="0.2">machinery</text>
<text x="1363.8" y="53.7" font-size="11.5" fill="#000">glucosinolates</text>
<text x="1362.8" y="52.7" font-size="11.5" fill="#fff" stroke="#C8E033" stroke-width="0.29">glucosinolates</text>
<text x="1515.2" y="32.9" font-size="11.6" fill="#000">flavonoids</text>
<text x="1514.2" y="31.9" font-size="11.6" fill="#fff" stroke="#DFFF3C" stroke-width="0.29">flavonoids</text>
<text x="1412.0" y="153.8" font-size="23.7" fill="#000">terpenoids</text>
<text x="1411.0" y="152.8" font-size="23.7" fill="#fff" stroke="#C8FF33" stroke-width="0.3">terpenoids</text>
<text x="1574.3" y="71.9" font-size="6.9" fill="#000">polyamine</text>
<text x="1576.8" y="79.0" font-size="6.9" fill="#000">synthesis</text>
<text x="1573.3" y="70.9" font-size="6.9" fill="#fff" stroke="#C8FF3C" stroke-width="0.17">polyamine</text>
<text x="1575.8" y="78.0" font-size="6.9" fill="#fff" stroke="#C8FF3C" stroke-width="0.17">synthesis</text>
<text x="1634.5" y="91.4" font-size="11.4" fill="#000">amino acid</text>
<text x="1631.2" y="101.8" font-size="11.4" fill="#000">synthesis &amp;</text>
<text x="1630.3" y="112.5" font-size="11.4" fill="#000">degradation</text>
<text x="1633.5" y="90.4" font-size="11.4" fill="#fff" stroke="#9B478D" stroke-width="0.29">amino acid</text>
<text x="1630.2" y="100.8" font-size="11.4" fill="#fff" stroke="#9B478D" stroke-width="0.29">synthesis &amp;</text>
<text x="1629.3" y="111.5" font-size="11.4" fill="#fff" stroke="#9B478D" stroke-width="0.29">degradation</text>
<text x="1660.9" y="204.2" font-size="22.3" fill="#000">amino</text>
<text x="1673.5" y="225.9" font-size="22.3" fill="#000">acid</text>
<text x="1637.8" y="248.0" font-size="22.3" fill="#000">synthesis</text>
<text x="1659.9" y="203.2" font-size="22.3" fill="#fff" stroke="#E42C33" stroke-width="0.3">amino</text>
<text x="1672.5" y="224.9" font-size="22.3" fill="#fff" stroke="#E42C33" stroke-width="0.3">acid</text>
<text x="1636.8" y="247.0" font-size="22.3" fill="#fff" stroke="#E42C33" stroke-width="0.3">synthesis</text>
<text x="1783.2" y="295.2" font-size="14.3" fill="#000">amino acid</text>
<text x="1776.4" y="310.4" font-size="14.3" fill="#000">degradation</text>
<text x="1782.2" y="294.2" font-size="14.3" fill="#fff" stroke="#407DF7" stroke-width="0.3">amino acid</text>
<text x="1775.4" y="309.4" font-size="14.3" fill="#fff" stroke="#407DF7" stroke-width="0.3">degradation</text>
<text x="1724.9" y="32.9" font-size="10.1" fill="#000">sulfur</text>
<text x="1706.7" y="42.6" font-size="10.1" fill="#000">assimilation</text>
<text x="1723.9" y="31.9" font-size="10.1" fill="#fff" stroke="#FFC9D4" stroke-width="0.25">sulfur</text>
<text x="1705.7" y="41.6" font-size="10.1" fill="#fff" stroke="#FFC9D4" stroke-width="0.25">assimilation</text>
<text x="1809.3" y="58.9" font-size="18.5" fill="#000">iron</text>
<text x="1793.5" y="76.4" font-size="18.5" fill="#000">uptake</text>
<text x="1808.3" y="57.9" font-size="18.5" fill="#fff" stroke="#FFE4D6" stroke-width="0.3">iron</text>
<text x="1792.5" y="75.4" font-size="18.5" fill="#fff" stroke="#FFE4D6" stroke-width="0.3">uptake</text>
<text x="1884.6" y="35.2" font-size="8.5" fill="#000">copper uptake</text>
<text x="1883.6" y="34.2" font-size="8.5" fill="#fff" stroke="#FFE4FA" stroke-width="0.21">copper uptake</text>
<text x="1889.9" y="87.7" font-size="6.7" fill="#000">nitrogen</text>
<text x="1881.9" y="95.2" font-size="6.7" fill="#000">assimilation</text>
<text x="1888.9" y="86.7" font-size="6.7" fill="#fff" stroke="#FFC9D4" stroke-width="0.17">nitrogen</text>
<text x="1880.9" y="94.2" font-size="6.7" fill="#fff" stroke="#FFC9D4" stroke-width="0.17">assimilation</text>
<text x="1849.1" y="136.6" font-size="6.7" fill="#000">phosphorus</text>
<text x="1849.1" y="142.3" font-size="6.7" fill="#000">assimilation</text>
<text x="1848.1" y="135.6" font-size="6.7" fill="#fff" stroke="#FFC9D4" stroke-width="0.17">phosphorus</text>
<text x="1848.1" y="141.3" font-size="6.7" fill="#fff" stroke="#FFC9D4" stroke-width="0.17">assimilation</text>
<text x="1983.5" y="17.6" font-size="2.7" fill="#000">potassium</text>
<text x="1981.6" y="20.4" font-size="2.7" fill="#000">transporter</text>
<text x="1983.0" y="17.1" font-size="2.7" fill="#fff" stroke="#6A6FDC" stroke-width="0.07">potassium</text>
<text x="1981.1" y="19.9" font-size="2.7" fill="#fff" stroke="#6A6FDC" stroke-width="0.07">transporter</text>
<text x="2001.7" y="29.3" font-size="3.0" fill="#000">ammonium</text>
<text x="2000.7" y="32.1" font-size="3.0" fill="#000">transporter</text>
<text x="2001.2" y="28.8" font-size="3.0" fill="#fff" stroke="#66C6FF" stroke-width="0.07">ammonium</text>
<text x="2000.2" y="31.6" font-size="3.0" fill="#fff" stroke="#66C6FF" stroke-width="0.07">transporter</text>
<text x="1951.7" y="88.0" font-size="2.6" fill="#000">sugar</text>
<text x="1946.9" y="91.4" font-size="2.6" fill="#000">transporter</text>
<text x="1951.2" y="87.5" font-size="2.6" fill="#fff" stroke="#6680FF" stroke-width="0.07">sugar</text>
<text x="1946.4" y="90.9" font-size="2.6" fill="#fff" stroke="#6680FF" stroke-width="0.07">transporter</text>
<text x="1925.0" y="147.3" font-size="2.7" fill="#000">ABC</text>
<text x="1917.9" y="150.4" font-size="2.7" fill="#000">transporters</text>
<text x="1924.5" y="146.8" font-size="2.7" fill="#fff" stroke="#66C6FF" stroke-width="0.07">ABC</text>
<text x="1917.4" y="149.9" font-size="2.7" fill="#fff" stroke="#66C6FF" stroke-width="0.07">transporters</text>
<text x="2016.7" y="13.4" font-size="2.1" fill="#000">nitrate</text>
<text x="2015.2" y="15.2" font-size="2.1" fill="#000">transport</text>
<text x="2016.2" y="12.9" font-size="2.1" fill="#fff" stroke="#6680FF" stroke-width="0.05">nitrate</text>
<text x="2014.7" y="14.7" font-size="2.1" fill="#fff" stroke="#6680FF" stroke-width="0.05">transport</text>
<text x="2309.3" y="116.4" font-size="34.3" fill="#000">channels</text>
<text x="2308.3" y="115.4" font-size="34.3" fill="#fff" stroke="#5397CB" stroke-width="0.3">channels</text>
<text x="2063.7" y="192.8" font-size="42.1" fill="#000">carrier-</text>
<text x="2038.7" y="235.7" font-size="42.1" fill="#000">mediated</text>
<text x="2041.4" y="277.9" font-size="42.1" fill="#000">transport</text>
<text x="2062.7" y="191.8" font-size="42.1" fill="#fff" stroke="#66C6E8" stroke-width="0.3">carrier-</text>
<text x="2037.7" y="234.7" font-size="42.1" fill="#fff" stroke="#66C6E8" stroke-width="0.3">mediated</text>
<text x="2040.4" y="276.9" font-size="42.1" fill="#fff" stroke="#66C6E8" stroke-width="0.3">transport</text>
<text x="1913.1" y="339.1" font-size="18.9" fill="#000">primary</text>
<text x="1920.2" y="358.6" font-size="18.9" fill="#000">active</text>
<text x="1902.6" y="378.1" font-size="18.9" fill="#000">transport</text>
<text x="1912.1" y="338.1" font-size="18.9" fill="#fff" stroke="#6870DC" stroke-width="0.3">primary</text>
<text x="1919.2" y="357.6" font-size="18.9" fill="#fff" stroke="#6870DC" stroke-width="0.3">active</text>
<text x="1901.6" y="377.1" font-size="18.9" fill="#fff" stroke="#6870DC" stroke-width="0.3">transport</text>
<text x="2345.8" y="335.8" font-size="22.9" fill="#000">amino acid</text>
<text x="2342.3" y="358.6" font-size="22.9" fill="#000">transporter</text>
<text x="2344.8" y="334.8" font-size="22.9" fill="#fff" stroke="#66C6FF" stroke-width="0.3">amino acid</text>
<text x="2341.3" y="357.6" font-size="22.9" fill="#fff" stroke="#66C6FF" stroke-width="0.3">transporter</text>
<text x="2381.8" y="472.3" font-size="44.3" fill="#000">misc</text>
<text x="2380.8" y="471.3" font-size="44.3" fill="#fff" stroke="#FFFFDD" stroke-width="0.3">misc</text>
<text x="2134.1" y="485.3" font-size="14.3" fill="#000">porins</text>
<text x="2133.1" y="484.3" font-size="14.3" fill="#fff" stroke="#6680E6" stroke-width="0.3">porins</text>
<text x="2105.3" y="487.6" font-size="6.1" fill="#000">not</text>
<text x="2096.0" y="492.5" font-size="6.1" fill="#000">assigned</text>
<text x="2104.3" y="486.6" font-size="6.1" fill="#fff" stroke="#6680FF" stroke-width="0.15">not</text>
<text x="2095.0" y="491.5" font-size="6.1" fill="#fff" stroke="#6680FF" stroke-width="0.15">assigned</text>
<text x="2059.1" y="511.5" font-size="5.9" fill="#000">nucleotide</text>
<text x="2057.7" y="517.3" font-size="5.9" fill="#000">transporter</text>
<text x="2058.6" y="511.0" font-size="5.9" fill="#fff" stroke="#6680FF" stroke-width="0.15">nucleotide</text>
<text x="2057.2" y="516.8" font-size="5.9" fill="#fff" stroke="#6680FF" stroke-width="0.15">transporter</text>
<text x="2165.9" y="558.5" font-size="19.4" fill="#000">lipid</text>
<text x="2122.1" y="577.0" font-size="19.4" fill="#000">degradation</text>
<text x="2164.9" y="557.5" font-size="19.4" fill="#fff" stroke="#EBE03B" stroke-width="0.3">lipid</text>
<text x="2121.1" y="576.0" font-size="19.4" fill="#fff" stroke="#EBE03B" stroke-width="0.3">degradation</text>
<text x="1976.6" y="46.6" font-size="4.1" fill="#000">metal</text>
<text x="1969.7" y="50.4" font-size="4.1" fill="#000">transporter</text>
<text x="1976.1" y="46.1" font-size="4.1" fill="#fff" stroke="#6680FF" stroke-width="0.1">metal</text>
<text x="1969.2" y="49.9" font-size="4.1" fill="#fff" stroke="#6680FF" stroke-width="0.1">transporter</text>
<text x="2332.8" y="619.2" font-size="30.1" fill="#000">lipid</text>
<text x="2286.6" y="649.2" font-size="30.1" fill="#000">synthesis</text>
<text x="2331.8" y="618.2" font-size="30.1" fill="#fff" stroke="#FFF873" stroke-width="0.3">lipid</text>
<text x="2285.6" y="648.2" font-size="30.1" fill="#fff" stroke="#FFF873" stroke-width="0.3">synthesis</text>
<text x="2454.8" y="725.5" font-size="12.4" fill="#000">lipid</text>
<text x="2438.4" y="737.2" font-size="12.4" fill="#000">transport</text>
<text x="2453.8" y="724.5" font-size="12.4" fill="#fff" stroke="#FFFFB8" stroke-width="0.3">lipid</text>
<text x="2437.4" y="736.2" font-size="12.4" fill="#fff" stroke="#FFFFB8" stroke-width="0.3">transport</text>
<text x="2221.4" y="733.2" font-size="5.0" fill="#000">not</text>
<text x="2213.2" y="739.0" font-size="5.0" fill="#000">assigned</text>
<text x="2220.9" y="732.7" font-size="5.0" fill="#fff" stroke="#E0E0DC" stroke-width="0.13">not</text>
<text x="2212.7" y="738.5" font-size="5.0" fill="#fff" stroke="#E0E0DC" stroke-width="0.13">assigned</text>
<text x="2268.0" y="781.8" font-size="12.8" fill="#000">lipid</text>
<text x="2252.8" y="793.2" font-size="12.8" fill="#000">handling</text>
<text x="2267.0" y="780.8" font-size="12.8" fill="#fff" stroke="#FBBD19" stroke-width="0.3">lipid</text>
<text x="2251.8" y="792.2" font-size="12.8" fill="#fff" stroke="#FBBD19" stroke-width="0.3">handling</text>
<text x="2352.2" y="788.3" font-size="8.0" fill="#000">lipid bodies-</text>
<text x="2332.6" y="796.4" font-size="8.0" fill="#000">associated activities</text>
<text x="2351.2" y="787.3" font-size="8.0" fill="#fff" stroke="#FADC1E" stroke-width="0.2">lipid bodies-</text>
<text x="2331.6" y="795.4" font-size="8.0" fill="#fff" stroke="#FADC1E" stroke-width="0.2">associated activities</text>
<text x="2304.4" y="838.2" font-size="4.9" fill="#000">riboflavin</text>
<text x="2303.9" y="837.7" font-size="4.9" fill="#fff" stroke="#3F9FA8" stroke-width="0.12">riboflavin</text>
<text x="2361.8" y="838.7" font-size="11.1" fill="#000">FMN/</text>
<text x="2364.9" y="850.0" font-size="11.1" fill="#000">FAD</text>
<text x="2360.8" y="837.7" font-size="11.1" fill="#fff" stroke="#C873C8" stroke-width="0.28">FMN/</text>
<text x="2363.9" y="849.0" font-size="11.1" fill="#fff" stroke="#C873C8" stroke-width="0.28">FAD</text>
<text x="2406.6" y="864.0" font-size="8.0" fill="#000">tetrahydrofolate</text>
<text x="2405.6" y="863.0" font-size="8.0" fill="#fff" stroke="#26BDB4" stroke-width="0.2">tetrahydrofolate</text>
<text x="2476.5" y="815.9" font-size="8.5" fill="#000">lipoic</text>
<text x="2479.9" y="823.1" font-size="8.5" fill="#000">acid</text>
<text x="2475.5" y="814.9" font-size="8.5" fill="#fff" stroke="#FF66CC" stroke-width="0.21">lipoic</text>
<text x="2478.9" y="822.1" font-size="8.5" fill="#fff" stroke="#FF66CC" stroke-width="0.21">acid</text>
<text x="2466.0" y="913.4" font-size="10.2" fill="#000">biotin</text>
<text x="2465.0" y="912.4" font-size="10.2" fill="#fff" stroke="#BDC919" stroke-width="0.26">biotin</text>
<text x="2317.7" y="890.7" font-size="14.3" fill="#000">iron-</text>
<text x="2306.2" y="903.7" font-size="14.3" fill="#000">sulphur</text>
<text x="2305.3" y="916.7" font-size="14.3" fill="#000">clusters</text>
<text x="2316.7" y="889.7" font-size="14.3" fill="#fff" stroke="#FF7399" stroke-width="0.3">iron-</text>
<text x="2305.2" y="902.7" font-size="14.3" fill="#fff" stroke="#FF7399" stroke-width="0.3">sulphur</text>
<text x="2304.3" y="915.7" font-size="14.3" fill="#fff" stroke="#FF7399" stroke-width="0.3">clusters</text>
<text x="2364.2" y="973.6" font-size="16.6" fill="#000">tetrapyrrole</text>
<text x="2363.2" y="972.6" font-size="16.6" fill="#fff" stroke="#19CCB0" stroke-width="0.3">tetrapyrrole</text>
<text x="2327.8" y="1024.4" font-size="5.1" fill="#000">molybdenum</text>
<text x="2333.7" y="1029.0" font-size="5.1" fill="#000">cofactor</text>
<text x="2327.3" y="1023.9" font-size="5.1" fill="#fff" stroke="#FF66F2" stroke-width="0.13">molybdenum</text>
<text x="2333.2" y="1028.5" font-size="5.1" fill="#fff" stroke="#FF66F2" stroke-width="0.13">cofactor</text>
<text x="2440.9" y="1036.9" font-size="6.9" fill="#000">phylloquinone</text>
<text x="2439.9" y="1035.9" font-size="6.9" fill="#fff" stroke="#428CB8" stroke-width="0.17">phylloquinone</text>
<text x="2385.2" y="1060.7" font-size="7.9" fill="#000">coenzyme</text>
<text x="2403.8" y="1067.8" font-size="7.9" fill="#000">A</text>
<text x="2384.2" y="1059.7" font-size="7.9" fill="#fff" stroke="#C4B836" stroke-width="0.2">coenzyme</text>
<text x="2402.8" y="1066.8" font-size="7.9" fill="#fff" stroke="#C4B836" stroke-width="0.2">A</text>
<text x="2343.9" y="1085.7" font-size="6.6" fill="#000">thiamine</text>
<text x="2342.9" y="1084.7" font-size="6.6" fill="#fff" stroke="#14EFA8" stroke-width="0.17">thiamine</text>
<text x="2437.5" y="1101.3" font-size="12.0" fill="#000">NAD/</text>
<text x="2435.9" y="1112.7" font-size="12.0" fill="#000">NADP</text>
<text x="2436.5" y="1100.3" font-size="12.0" fill="#fff" stroke="#3F8FC6" stroke-width="0.3">NAD/</text>
<text x="2434.9" y="1111.7" font-size="12.0" fill="#fff" stroke="#3F8FC6" stroke-width="0.3">NADP</text>
<text x="2401.8" y="1109.6" font-size="4.9" fill="#000">not</text>
<text x="2394.0" y="1115.1" font-size="4.9" fill="#000">assigned</text>
<text x="2401.3" y="1109.1" font-size="4.9" fill="#fff" stroke="#3F8F98" stroke-width="0.12">not</text>
<text x="2393.5" y="1114.6" font-size="4.9" fill="#fff" stroke="#3F8F98" stroke-width="0.12">assigned</text>
<text x="2361.8" y="1161.4" font-size="23.0" fill="#000">glycolysis</text>
<text x="2360.8" y="1160.4" font-size="23.0" fill="#fff" stroke="#76416F" stroke-width="0.3">glycolysis</text>
<text x="161.4" y="767.4" font-size="74.2" fill="#000">protein</text>
<text x="54.8" y="842.2" font-size="74.2" fill="#000">degradation</text>
<text x="160.1" y="766.1" font-size="74.2" fill="#fff">protein</text>
<text x="53.5" y="840.9" font-size="74.2" fill="#fff">degradation</text>
<text x="204.9" y="1034.3" font-size="10.2" fill="#000">receptor</text>
<text x="207.6" y="1044.1" font-size="10.2" fill="#000">kinases</text>
<text x="203.9" y="1033.3" font-size="10.2" fill="#fff" stroke="#D68E2B" stroke-width="0.25">receptor</text>
<text x="206.6" y="1043.1" font-size="10.2" fill="#fff" stroke="#D68E2B" stroke-width="0.25">kinases</text>
<text x="284.0" y="1055.8" font-size="10.2" fill="#000">SnRK1</text>
<text x="274.1" y="1065.5" font-size="10.2" fill="#000">metabolic</text>
<text x="275.6" y="1075.3" font-size="10.2" fill="#000">regulator</text>
<text x="283.2" y="1085.0" font-size="10.2" fill="#000">system</text>
<text x="283.0" y="1054.8" font-size="10.2" fill="#fff" stroke="#D48E72" stroke-width="0.26">SnRK1</text>
<text x="273.1" y="1064.5" font-size="10.2" fill="#fff" stroke="#D48E72" stroke-width="0.26">metabolic</text>
<text x="274.6" y="1074.3" font-size="10.2" fill="#fff" stroke="#D48E72" stroke-width="0.26">regulator</text>
<text x="282.2" y="1084.0" font-size="10.2" fill="#fff" stroke="#D48E72" stroke-width="0.26">system</text>
<text x="387.9" y="1084.1" font-size="13.9" fill="#000">Rop</text>
<text x="374.7" y="1097.7" font-size="13.9" fill="#000">GTPase</text>
<text x="361.6" y="1111.7" font-size="13.9" fill="#000">regulatory</text>
<text x="375.8" y="1125.7" font-size="13.9" fill="#000">system</text>
<text x="386.9" y="1083.1" font-size="13.9" fill="#fff" stroke="#D68E2B" stroke-width="0.3">Rop</text>
<text x="373.7" y="1096.7" font-size="13.9" fill="#fff" stroke="#D68E2B" stroke-width="0.3">GTPase</text>
<text x="360.6" y="1110.7" font-size="13.9" fill="#fff" stroke="#D68E2B" stroke-width="0.3">regulatory</text>
<text x="374.8" y="1124.7" font-size="13.9" fill="#fff" stroke="#D68E2B" stroke-width="0.3">system</text>
<text x="458.6" y="1117.7" font-size="5.8" fill="#000">gravity</text>
<text x="458.1" y="1117.2" font-size="5.8" fill="#fff" stroke="#D68E2B" stroke-width="0.14">gravity</text>
<text x="168.9" y="1109.1" font-size="15.9" fill="#000">calcium</text>
<text x="157.2" y="1125.7" font-size="15.9" fill="#000">signalling</text>
<text x="167.9" y="1108.1" font-size="15.9" fill="#fff" stroke="#D48F02" stroke-width="0.3">calcium</text>
<text x="156.2" y="1124.7" font-size="15.9" fill="#fff" stroke="#D48F02" stroke-width="0.3">signalling</text>
<text x="254.5" y="1198.5" font-size="39.0" fill="#000">light</text>
<text x="253.5" y="1197.5" font-size="39.0" fill="#fff" stroke="#D48E68" stroke-width="0.3">light</text>
<text x="385.5" y="1222.2" font-size="15.2" fill="#000">circadian</text>
<text x="403.6" y="1239.1" font-size="15.2" fill="#000">clock</text>
<text x="384.5" y="1221.2" font-size="15.2" fill="#fff" stroke="#D48F02" stroke-width="0.3">circadian</text>
<text x="402.6" y="1238.1" font-size="15.2" fill="#fff" stroke="#D48F02" stroke-width="0.3">clock</text>
<text x="124.3" y="1152.3" font-size="6.1" fill="#000">not</text>
<text x="113.8" y="1158.2" font-size="6.1" fill="#000">assigned</text>
<text x="123.3" y="1151.3" font-size="6.1" fill="#fff" stroke="#D68E4B" stroke-width="0.15">not</text>
<text x="112.8" y="1157.2" font-size="6.1" fill="#fff" stroke="#D68E4B" stroke-width="0.15">assigned</text>
<text x="96.2" y="1203.4" font-size="8.5" fill="#000">phosphinositides</text>
<text x="95.2" y="1202.4" font-size="8.5" fill="#fff" stroke="#D68E2B" stroke-width="0.21">phosphinositides</text>
<text x="206.5" y="1236.8" font-size="12.8" fill="#000">G-</text>
<text x="184.5" y="1248.9" font-size="12.8" fill="#000">proteins</text>
<text x="205.5" y="1235.8" font-size="12.8" fill="#fff" stroke="#D6913B" stroke-width="0.3">G-</text>
<text x="183.5" y="1247.9" font-size="12.8" fill="#fff" stroke="#D6913B" stroke-width="0.3">proteins</text>
<text x="35.1" y="955.8" font-size="5.1" fill="#000">glutaredoxins</text>
<text x="34.6" y="955.3" font-size="5.1" fill="#fff" stroke="#FFAAFF" stroke-width="0.13">glutaredoxins</text>
<text x="46.6" y="991.4" font-size="8.3" fill="#000">chloroplast</text>
<text x="59.0" y="998.9" font-size="8.3" fill="#000">redox</text>
<text x="43.2" y="1007.0" font-size="8.3" fill="#000">homeostasis</text>
<text x="45.6" y="990.4" font-size="8.3" fill="#fff" stroke="#FF44FF" stroke-width="0.21">chloroplast</text>
<text x="58.0" y="997.9" font-size="8.3" fill="#fff" stroke="#FF44FF" stroke-width="0.21">redox</text>
<text x="42.2" y="1006.0" font-size="8.3" fill="#fff" stroke="#FF44FF" stroke-width="0.21">homeostasis</text>
<text x="117.6" y="1014.3" font-size="4.8" fill="#000">enzymatic</text>
<text x="120.2" y="1019.2" font-size="4.8" fill="#000">reactive</text>
<text x="121.9" y="1024.7" font-size="4.8" fill="#000">oxygen</text>
<text x="121.7" y="1029.9" font-size="4.8" fill="#000">species</text>
<text x="115.7" y="1035.8" font-size="4.8" fill="#000">scavengers</text>
<text x="117.1" y="1013.8" font-size="4.8" fill="#fff" stroke="#FFAAFF" stroke-width="0.12">enzymatic</text>
<text x="119.7" y="1018.7" font-size="4.8" fill="#fff" stroke="#FFAAFF" stroke-width="0.12">reactive</text>
<text x="121.4" y="1024.2" font-size="4.8" fill="#fff" stroke="#FFAAFF" stroke-width="0.12">oxygen</text>
<text x="121.2" y="1029.4" font-size="4.8" fill="#fff" stroke="#FFAAFF" stroke-width="0.12">species</text>
<text x="115.2" y="1035.3" font-size="4.8" fill="#fff" stroke="#FFAAFF" stroke-width="0.12">scavengers</text>
<text x="25.9" y="1055.8" font-size="13.2" fill="#000">hydrogen</text>
<text x="27.6" y="1068.8" font-size="13.2" fill="#000">peroxide</text>
<text x="30.4" y="1081.5" font-size="13.2" fill="#000">removal</text>
<text x="24.9" y="1054.8" font-size="13.2" fill="#fff" stroke="#FF0CE0" stroke-width="0.3">hydrogen</text>
<text x="26.6" y="1067.8" font-size="13.2" fill="#fff" stroke="#FF0CE0" stroke-width="0.3">peroxide</text>
<text x="29.4" y="1080.5" font-size="13.2" fill="#fff" stroke="#FF0CE0" stroke-width="0.3">removal</text>
<text x="27.7" y="1123.1" font-size="8.2" fill="#000">not</text>
<text x="14.3" y="1131.2" font-size="8.2" fill="#000">assigned</text>
<text x="26.7" y="1122.1" font-size="8.2" fill="#fff" stroke="#FF10B0" stroke-width="0.2">not</text>
<text x="13.3" y="1130.2" font-size="8.2" fill="#fff" stroke="#FF10B0" stroke-width="0.2">assigned</text>
<text x="67.5" y="1125.4" font-size="6.9" fill="#000">thioredoxin</text>
<text x="66.5" y="1124.4" font-size="6.9" fill="#fff" stroke="#FF10B0" stroke-width="0.17">thioredoxin</text>
<text x="54.4" y="1168.1" font-size="5.1" fill="#000">cytosol/</text>
<text x="44.9" y="1173.0" font-size="5.1" fill="#000">mitochondrion/</text>
<text x="46.7" y="1178.5" font-size="5.1" fill="#000">nucleus redox</text>
<text x="48.4" y="1183.7" font-size="5.1" fill="#000">homeostasis</text>
<text x="53.9" y="1167.6" font-size="5.1" fill="#fff" stroke="#FF99FF" stroke-width="0.13">cytosol/</text>
<text x="44.4" y="1172.5" font-size="5.1" fill="#fff" stroke="#FF99FF" stroke-width="0.13">mitochondrion/</text>
<text x="46.2" y="1178.0" font-size="5.1" fill="#fff" stroke="#FF99FF" stroke-width="0.13">nucleus redox</text>
<text x="47.9" y="1183.2" font-size="5.1" fill="#fff" stroke="#FF99FF" stroke-width="0.13">homeostasis</text>
<text x="16.1" y="1170.7" font-size="4.1" fill="#000">reactive</text>
<text x="17.3" y="1174.6" font-size="4.1" fill="#000">oxygen</text>
<text x="12.7" y="1178.5" font-size="4.1" fill="#000">generation</text>
<text x="15.6" y="1170.2" font-size="4.1" fill="#fff" stroke="#FF10C8" stroke-width="0.1">reactive</text>
<text x="16.8" y="1174.1" font-size="4.1" fill="#fff" stroke="#FF10C8" stroke-width="0.1">oxygen</text>
<text x="12.2" y="1178.0" font-size="4.1" fill="#fff" stroke="#FF10C8" stroke-width="0.1">generation</text>
<text x="114.3" y="1265.1" font-size="9.8" fill="#000">gibberellin</text>
<text x="113.3" y="1264.1" font-size="9.8" fill="#fff" stroke="#C40DA6" stroke-width="0.25">gibberellin</text>
<text x="16.2" y="1328.5" font-size="24.1" fill="#000">abscisic</text>
<text x="43.8" y="1351.9" font-size="24.1" fill="#000">acid</text>
<text x="15.2" y="1327.5" font-size="24.1" fill="#fff" stroke="#9C1E84" stroke-width="0.3">abscisic</text>
<text x="42.8" y="1350.9" font-size="24.1" fill="#fff" stroke="#9C1E84" stroke-width="0.3">acid</text>
<text x="13.6" y="1430.9" font-size="8.8" fill="#000">salicylic</text>
<text x="23.8" y="1439.7" font-size="8.8" fill="#000">acid</text>
<text x="12.6" y="1429.9" font-size="8.8" fill="#fff" stroke="#CC33DD" stroke-width="0.22">salicylic</text>
<text x="22.8" y="1438.7" font-size="8.8" fill="#fff" stroke="#CC33DD" stroke-width="0.22">acid</text>
<text x="142.8" y="1421.2" font-size="23.5" fill="#000">signalling</text>
<text x="149.1" y="1444.9" font-size="23.5" fill="#000">peptides</text>
<text x="141.8" y="1420.2" font-size="23.5" fill="#fff" stroke="#DC00DC" stroke-width="0.3">signalling</text>
<text x="148.1" y="1443.9" font-size="23.5" fill="#fff" stroke="#DC00DC" stroke-width="0.3">peptides</text>
<text x="304.5" y="1381.2" font-size="13.2" fill="#000">brassinosteroid</text>
<text x="303.5" y="1380.2" font-size="13.2" fill="#fff" stroke="#BE1E85" stroke-width="0.3">brassinosteroid</text>
<text x="425.5" y="1445.5" font-size="8.7" fill="#000">jasmonate</text>
<text x="424.5" y="1444.5" font-size="8.7" fill="#fff" stroke="#C40DC4" stroke-width="0.22">jasmonate</text>
<text x="305.5" y="1500.8" font-size="22.6" fill="#000">cytokinin</text>
<text x="304.5" y="1499.8" font-size="22.6" fill="#fff" stroke="#BE0A5C" stroke-width="0.3">cytokinin</text>
<text x="187.2" y="1568.1" font-size="15.6" fill="#000">ethylene</text>
<text x="186.2" y="1567.1" font-size="15.6" fill="#fff" stroke="#C81E7C" stroke-width="0.3">ethylene</text>
<text x="20.1" y="1557.7" font-size="44.2" fill="#000">auxin</text>
<text x="19.1" y="1556.7" font-size="44.2" fill="#fff" stroke="#B41E80" stroke-width="0.3">auxin</text>
<text x="13.6" y="1648.0" font-size="8.3" fill="#000">strigolactone</text>
<text x="12.6" y="1647.0" font-size="8.3" fill="#fff" stroke="#FF00DC" stroke-width="0.21">strigolactone</text>
<text x="351.7" y="1297.6" font-size="13.7" fill="#000">light</text>
<text x="334.5" y="1311.6" font-size="13.7" fill="#000">signaling</text>
<text x="350.7" y="1296.6" font-size="13.7" fill="#fff" stroke="#D48E68" stroke-width="0.3">light</text>
<text x="333.5" y="1310.6" font-size="13.7" fill="#fff" stroke="#D48E68" stroke-width="0.3">signaling</text>
<text x="448.7" y="1344.3" font-size="5.8" fill="#000">TOR</text>
<text x="439.0" y="1350.1" font-size="5.8" fill="#000">signalling</text>
<text x="441.2" y="1355.6" font-size="5.8" fill="#000">pathway</text>
<text x="448.2" y="1343.8" font-size="5.8" fill="#fff" stroke="#D48E7E" stroke-width="0.14">TOR</text>
<text x="438.5" y="1349.6" font-size="5.8" fill="#fff" stroke="#D48E7E" stroke-width="0.14">signalling</text>
<text x="440.7" y="1355.1" font-size="5.8" fill="#fff" stroke="#D48E7E" stroke-width="0.14">pathway</text>
<text x="2347.7" y="1331.1" font-size="30.3" fill="#000">OXPHOS</text>
<text x="2346.7" y="1330.1" font-size="30.3" fill="#fff" stroke="#7C66C8" stroke-width="0.3">OXPHOS</text>
<text x="2400.1" y="1484.5" font-size="17.9" fill="#000">TCA cycle</text>
<text x="2399.1" y="1483.5" font-size="17.9" fill="#fff" stroke="#A0004C" stroke-width="0.3">TCA cycle</text>
<text x="2323.2" y="1487.3" font-size="5.7" fill="#000">carbonic</text>
<text x="2319.2" y="1492.8" font-size="5.7" fill="#000">anhydrases</text>
<text x="2322.7" y="1486.8" font-size="5.7" fill="#fff" stroke="#7E4470" stroke-width="0.14">carbonic</text>
<text x="2318.7" y="1492.3" font-size="5.7" fill="#fff" stroke="#7E4470" stroke-width="0.14">anhydrases</text>
<text x="2336.8" y="1519.1" font-size="4.2" fill="#000">deoxynucleotide</text>
<text x="2342.2" y="1524.0" font-size="4.2" fill="#000">metabolism</text>
<text x="2336.3" y="1518.6" font-size="4.2" fill="#fff" stroke="#7EE8FF" stroke-width="0.11">deoxynucleotide</text>
<text x="2341.7" y="1523.5" font-size="4.2" fill="#fff" stroke="#7EE8FF" stroke-width="0.11">metabolism</text>
<text x="2442.6" y="1532.6" font-size="10.0" fill="#000">nucleotide</text>
<text x="2446.1" y="1541.4" font-size="10.0" fill="#000">synthesis</text>
<text x="2441.6" y="1531.6" font-size="10.0" fill="#fff" stroke="#AAFFBB" stroke-width="0.25">nucleotide</text>
<text x="2445.1" y="1540.4" font-size="10.0" fill="#fff" stroke="#AAFFBB" stroke-width="0.25">synthesis</text>
<text x="2368.9" y="1589.2" font-size="12.7" fill="#000">nucleotide</text>
<text x="2379.8" y="1600.9" font-size="12.7" fill="#000">salvage</text>
<text x="2367.9" y="1588.2" font-size="12.7" fill="#fff" stroke="#AAFFDD" stroke-width="0.3">nucleotide</text>
<text x="2378.8" y="1599.9" font-size="12.7" fill="#fff" stroke="#AAFFDD" stroke-width="0.3">salvage</text>
<text x="2304.7" y="1588.1" font-size="5.9" fill="#000">nucleotide</text>
<text x="2294.2" y="1593.9" font-size="5.9" fill="#000">phosphotransfer</text>
<text x="2304.2" y="1587.6" font-size="5.9" fill="#fff" stroke="#AAFCFF" stroke-width="0.15">nucleotide</text>
<text x="2293.7" y="1593.4" font-size="5.9" fill="#fff" stroke="#AAFCFF" stroke-width="0.15">phosphotransfer</text>
<text x="2455.1" y="1625.0" font-size="6.9" fill="#000">nucleotide</text>
<text x="2452.9" y="1631.5" font-size="6.9" fill="#000">degradation</text>
<text x="2454.1" y="1624.0" font-size="6.9" fill="#fff" stroke="#90FFFF" stroke-width="0.17">nucleotide</text>
<text x="2451.9" y="1630.5" font-size="6.9" fill="#fff" stroke="#90FFFF" stroke-width="0.17">degradation</text>
<text x="2464.1" y="1670.9" font-size="5.2" fill="#000">not</text>
<text x="2455.4" y="1676.8" font-size="5.2" fill="#000">assigned</text>
<text x="2463.6" y="1670.4" font-size="5.2" fill="#fff" stroke="#70EEFF" stroke-width="0.13">not</text>
<text x="2454.9" y="1676.3" font-size="5.2" fill="#fff" stroke="#70EEFF" stroke-width="0.13">assigned</text>
<text x="2154.5" y="1791.7" font-size="43.7" fill="#000">cytoskeleton</text>
<text x="2153.5" y="1790.7" font-size="43.7" fill="#fff" stroke="#FD7E18" stroke-width="0.3">cytoskeleton</text>
<text x="2123.8" y="2053.7" font-size="60.5" fill="#000">cell wall</text>
<text x="2122.5" y="2052.4" font-size="60.5" fill="#fff">cell wall</text>
<text x="1870.0" y="2160.0" font-size="74.9" fill="#000">cell</text>
<text x="1834.8" y="2233.1" font-size="74.9" fill="#000">cycle</text>
<text x="1868.7" y="2158.7" font-size="74.9" fill="#fff">cell</text>
<text x="1833.5" y="2231.8" font-size="74.9" fill="#fff">cycle</text>
<text x="2453.9" y="1931.5" font-size="12.8" fill="#000">LEA</text>
<text x="2436.5" y="1944.2" font-size="12.8" fill="#000">proteins</text>
<text x="2452.9" y="1930.5" font-size="12.8" fill="#fff" stroke="#FF9B05" stroke-width="0.3">LEA</text>
<text x="2435.5" y="1943.2" font-size="12.8" fill="#fff" stroke="#FF9B05" stroke-width="0.3">proteins</text>
<text x="2471.4" y="2124.9" font-size="8.8" fill="#000">cell</text>
<text x="2461.6" y="2133.7" font-size="8.8" fill="#000">division</text>
<text x="2470.4" y="2123.9" font-size="8.8" fill="#fff" stroke="#9B692C" stroke-width="0.22">cell</text>
<text x="2460.6" y="2132.7" font-size="8.8" fill="#fff" stroke="#9B692C" stroke-width="0.22">division</text>
<text x="2438.6" y="2274.1" font-size="16.6" fill="#000">not</text>
<text x="2411.5" y="2290.3" font-size="16.6" fill="#000">assigned</text>
<text x="2437.6" y="2273.1" font-size="16.6" fill="#fff" stroke="#FD7A16" stroke-width="0.3">not</text>
<text x="2410.5" y="2289.3" font-size="16.6" fill="#fff" stroke="#FD7A16" stroke-width="0.3">assigned</text>
<text x="2304.1" y="2314.1" font-size="16.3" fill="#000">cell</text>
<text x="2258.7" y="2331.0" font-size="16.3" fill="#000">organisation</text>
<text x="2303.1" y="2313.1" font-size="16.3" fill="#fff" stroke="#9B692C" stroke-width="0.3">cell</text>
<text x="2257.7" y="2330.0" font-size="16.3" fill="#fff" stroke="#9B692C" stroke-width="0.3">organisation</text>
<text x="2159.0" y="2320.6" font-size="13.9" fill="#000">cell death</text>
<text x="2158.0" y="2319.6" font-size="13.9" fill="#fff" stroke="#9B6836" stroke-width="0.3">cell death</text>
<text x="2048.4" y="2449.0" font-size="54.6" fill="#000">biotic stress</text>
<text x="2047.4" y="2448.0" font-size="54.6" fill="#fff">biotic stress</text>
<text x="1830.2" y="2401.8" font-size="40.5" fill="#000">abiotic</text>
<text x="1839.5" y="2440.8" font-size="40.5" fill="#000">stress</text>
<text x="1829.2" y="2400.8" font-size="40.5" fill="#fff" stroke="#CEC820" stroke-width="0.3">abiotic</text>
<text x="1838.5" y="2439.8" font-size="40.5" fill="#fff" stroke="#CEC820" stroke-width="0.3">stress</text>
<text x="1239.1" y="2195.4" font-size="11.4" fill="#000">photorespiration</text>
<text x="1238.1" y="2194.4" font-size="11.4" fill="#fff" stroke="#1E8C00" stroke-width="0.28">photorespiration</text>
<text x="1214.8" y="2355.3" font-size="11.3" fill="#000">photophosphorylation</text>
<text x="1213.8" y="2354.3" font-size="11.3" fill="#fff" stroke="#329048" stroke-width="0.28">photophosphorylation</text>
<text x="1296.1" y="2488.6" font-size="12.0" fill="#000">calvin cycle</text>
<text x="1295.1" y="2487.6" font-size="12.0" fill="#fff" stroke="#4A7A50" stroke-width="0.3">calvin cycle</text>
<text x="1414.8" y="2242.6" font-size="19.2" fill="#000">DNA</text>
<text x="1380.5" y="2262.1" font-size="19.2" fill="#000">synthesis/</text>
<text x="1382.5" y="2281.6" font-size="19.2" fill="#000">chromatin</text>
<text x="1386.4" y="2300.4" font-size="19.2" fill="#000">structure</text>
<text x="1413.8" y="2241.6" font-size="19.2" fill="#fff" stroke="#C4040C" stroke-width="0.3">DNA</text>
<text x="1379.5" y="2261.1" font-size="19.2" fill="#fff" stroke="#C4040C" stroke-width="0.3">synthesis/</text>
<text x="1381.5" y="2280.6" font-size="19.2" fill="#fff" stroke="#C4040C" stroke-width="0.3">chromatin</text>
<text x="1385.4" y="2299.4" font-size="19.2" fill="#fff" stroke="#C4040C" stroke-width="0.3">structure</text>
<text x="1680.5" y="2175.9" font-size="17.0" fill="#000">DNA</text>
<text x="1660.3" y="2192.8" font-size="17.0" fill="#000">damage</text>
<text x="1654.4" y="2209.4" font-size="17.0" fill="#000">response</text>
<text x="1679.5" y="2174.9" font-size="17.0" fill="#fff" stroke="#C80014" stroke-width="0.3">DNA</text>
<text x="1659.3" y="2191.8" font-size="17.0" fill="#fff" stroke="#C80014" stroke-width="0.3">damage</text>
<text x="1653.4" y="2208.4" font-size="17.0" fill="#fff" stroke="#C80014" stroke-width="0.3">response</text>
<text x="1511.2" y="2380.7" font-size="41.5" fill="#000">histone</text>
<text x="1510.2" y="2379.7" font-size="41.5" fill="#fff" stroke="#F20D24" stroke-width="0.3">histone</text>
<text x="1746.9" y="2328.7" font-size="12.6" fill="#000">DNA</text>
<text x="1721.7" y="2340.7" font-size="12.6" fill="#000">methylation</text>
<text x="1745.9" y="2327.7" font-size="12.6" fill="#fff" stroke="#C20F04" stroke-width="0.3">DNA</text>
<text x="1720.7" y="2339.7" font-size="12.6" fill="#fff" stroke="#C20F04" stroke-width="0.3">methylation</text>
<text x="1701.0" y="2471.7" font-size="20.3" fill="#000">not</text>
<text x="1666.3" y="2490.6" font-size="20.3" fill="#000">assigned</text>
<text x="1700.0" y="2470.7" font-size="20.3" fill="#fff" stroke="#FD2A1E" stroke-width="0.3">not</text>
<text x="1665.3" y="2489.6" font-size="20.3" fill="#fff" stroke="#FD2A1E" stroke-width="0.3">assigned</text>
<text x="1391.4" y="2480.5" font-size="12.3" fill="#000">DNA repair</text>
<text x="1390.4" y="2479.5" font-size="12.3" fill="#fff" stroke="#AA1200" stroke-width="0.3">DNA repair</text>
<text x="709.9" y="2253.9" font-size="44.7" fill="#000">RNA</text>
<text x="618.4" y="2297.8" font-size="44.7" fill="#000">processing</text>
<text x="708.9" y="2252.9" font-size="44.7" fill="#fff" stroke="#FD5050" stroke-width="0.3">RNA</text>
<text x="617.4" y="2296.8" font-size="44.7" fill="#fff" stroke="#FD5050" stroke-width="0.3">processing</text>
<text x="995.0" y="2193.8" font-size="14.0" fill="#000">carbohydrate</text>
<text x="998.7" y="2207.8" font-size="14.0" fill="#000">degradation</text>
<text x="994.0" y="2192.8" font-size="14.0" fill="#fff" stroke="#8A7E6A" stroke-width="0.3">carbohydrate</text>
<text x="997.7" y="2206.8" font-size="14.0" fill="#fff" stroke="#8A7E6A" stroke-width="0.3">degradation</text>
<text x="1125.2" y="2215.6" font-size="11.2" fill="#000">carbohydrate</text>
<text x="1137.8" y="2227.0" font-size="11.2" fill="#000">synthesis</text>
<text x="1124.2" y="2214.6" font-size="11.2" fill="#fff" stroke="#8A8A60" stroke-width="0.28">carbohydrate</text>
<text x="1136.8" y="2226.0" font-size="11.2" fill="#fff" stroke="#8A8A60" stroke-width="0.28">synthesis</text>
<text x="1025.8" y="2316.7" font-size="15.8" fill="#000">carbohydrate</text>
<text x="1044.8" y="2332.9" font-size="15.8" fill="#000">handling</text>
<text x="1024.8" y="2315.7" font-size="15.8" fill="#fff" stroke="#9A8C68" stroke-width="0.3">carbohydrate</text>
<text x="1043.8" y="2331.9" font-size="15.8" fill="#fff" stroke="#9A8C68" stroke-width="0.3">handling</text>
<text x="929.0" y="2372.6" font-size="12.9" fill="#000">nucleotide</text>
<text x="947.8" y="2384.6" font-size="12.9" fill="#000">sugar</text>
<text x="922.1" y="2396.3" font-size="12.9" fill="#000">biosynthesis</text>
<text x="928.0" y="2371.6" font-size="12.9" fill="#fff" stroke="#36251A" stroke-width="0.3">nucleotide</text>
<text x="946.8" y="2383.6" font-size="12.9" fill="#fff" stroke="#36251A" stroke-width="0.3">sugar</text>
<text x="921.1" y="2395.3" font-size="12.9" fill="#fff" stroke="#36251A" stroke-width="0.3">biosynthesis</text>
<text x="1060.5" y="2436.0" font-size="15.5" fill="#000">minor CHO</text>
<text x="1055.1" y="2452.2" font-size="15.5" fill="#000">metabolism</text>
<text x="1059.5" y="2435.0" font-size="15.5" fill="#fff" stroke="#8E3C2A" stroke-width="0.3">minor CHO</text>
<text x="1054.1" y="2451.2" font-size="15.5" fill="#fff" stroke="#8E3C2A" stroke-width="0.3">metabolism</text>
<text x="976.1" y="2470.1" font-size="16.0" fill="#000">ox.PPP</text>
<text x="975.1" y="2469.1" font-size="16.0" fill="#fff" stroke="#2E0C0C" stroke-width="0.3">ox.PPP</text>
<text x="875.7" y="2477.2" font-size="13.0" fill="#000">cupin</text>
<text x="851.0" y="2490.2" font-size="13.0" fill="#000">superfamily</text>
<text x="874.7" y="2476.2" font-size="13.0" fill="#fff" stroke="#8C3250" stroke-width="0.3">cupin</text>
<text x="850.0" y="2489.2" font-size="13.0" fill="#fff" stroke="#8C3250" stroke-width="0.3">superfamily</text>
<text x="1183.4" y="2489.1" font-size="4.0" fill="#000">CAM/C4</text>
<text x="1175.9" y="2493.0" font-size="4.0" fill="#000">photosynthesis</text>
<text x="1182.9" y="2488.6" font-size="4.0" fill="#fff" stroke="#58A010" stroke-width="0.1">CAM/C4</text>
<text x="1175.4" y="2492.5" font-size="4.0" fill="#fff" stroke="#58A010" stroke-width="0.1">photosynthesis</text>
<text x="257.0" y="1921.7" font-size="78.4" fill="#000">RNA</text>
<text x="59.0" y="1999.1" font-size="78.4" fill="#000">biosynthesis</text>
<text x="255.7" y="1920.4" font-size="78.4" fill="#fff">RNA</text>
<text x="57.7" y="1997.8" font-size="78.4" fill="#fff">biosynthesis</text>
<text x="31.8" y="2294.6" font-size="11.5" fill="#000">not</text>
<text x="13.5" y="2305.3" font-size="11.5" fill="#000">assigned</text>
<text x="30.8" y="2293.6" font-size="11.5" fill="#fff" stroke="#FD6464" stroke-width="0.29">not</text>
<text x="12.5" y="2304.3" font-size="11.5" fill="#fff" stroke="#FD6464" stroke-width="0.29">assigned</text>
<text x="33.0" y="2416.5" font-size="19.8" fill="#000">RNA</text>
<text x="33.0" y="2433.7" font-size="19.8" fill="#000">RNA</text>
<text x="14.9" y="2452.2" font-size="19.8" fill="#000">binding</text>
<text x="32.0" y="2415.5" font-size="19.8" fill="#fff" stroke="#FD6448" stroke-width="0.3">RNA</text>
<text x="32.0" y="2432.7" font-size="19.8" fill="#fff" stroke="#FD6448" stroke-width="0.3">RNA</text>
<text x="13.9" y="2451.2" font-size="19.8" fill="#fff" stroke="#FD6448" stroke-width="0.3">binding</text>
<text x="130.8" y="2445.7" font-size="22.5" fill="#000">RNA regulation</text>
<text x="127.7" y="2469.1" font-size="22.5" fill="#000">of transcription</text>
<text x="129.8" y="2444.7" font-size="22.5" fill="#fff" stroke="#FD6448" stroke-width="0.3">RNA regulation</text>
<text x="126.7" y="2468.1" font-size="22.5" fill="#fff" stroke="#FD6448" stroke-width="0.3">of transcription</text>
<text x="1379.9" y="211.2" font-size="5.0" fill="#000">polyamine</text>
<text x="1377.0" y="215.8" font-size="5.0" fill="#000">degradation</text>
<text x="1379.4" y="210.7" font-size="5.0" fill="#fff" stroke="#C8FF3C" stroke-width="0.12">polyamine</text>
<text x="1376.5" y="215.3" font-size="5.0" fill="#fff" stroke="#C8FF3C" stroke-width="0.12">degradation</text>
<text x="1387.9" y="237.7" font-size="5.8" fill="#000">flavons</text>
<text x="1393.4" y="243.5" font-size="5.8" fill="#000">and</text>
<text x="1384.3" y="248.9" font-size="5.8" fill="#000">flavonols</text>
<text x="1387.4" y="237.2" font-size="5.8" fill="#fff" stroke="#C8E83C" stroke-width="0.14">flavons</text>
<text x="1392.9" y="243.0" font-size="5.8" fill="#fff" stroke="#C8E83C" stroke-width="0.14">and</text>
<text x="1383.8" y="248.4" font-size="5.8" fill="#fff" stroke="#C8E83C" stroke-width="0.14">flavonols</text>
<text x="1431.2" y="237.0" font-size="4.7" fill="#000">p-</text>
<text x="1419.5" y="242.0" font-size="4.7" fill="#000">coumaroyl-</text>
<text x="1430.0" y="247.0" font-size="4.7" fill="#000">CoA</text>
<text x="1422.1" y="251.9" font-size="4.7" fill="#000">synthesis</text>
<text x="1430.7" y="236.5" font-size="4.7" fill="#fff" stroke="#C8FF3C" stroke-width="0.12">p-</text>
<text x="1419.0" y="241.5" font-size="4.7" fill="#fff" stroke="#C8FF3C" stroke-width="0.12">coumaroyl-</text>
<text x="1429.5" y="246.5" font-size="4.7" fill="#fff" stroke="#C8FF3C" stroke-width="0.12">CoA</text>
<text x="1421.6" y="251.4" font-size="4.7" fill="#fff" stroke="#C8FF3C" stroke-width="0.12">synthesis</text>
<text x="1464.7" y="250.9" font-size="5.1" fill="#000">nitrogen-</text>
<text x="1463.4" y="255.9" font-size="5.1" fill="#000">containing</text>
<text x="1463.3" y="260.9" font-size="5.1" fill="#000">secondary</text>
<text x="1462.5" y="265.8" font-size="5.1" fill="#000">compounds</text>
<text x="1464.2" y="250.4" font-size="5.1" fill="#fff" stroke="#C8FF3C" stroke-width="0.13">nitrogen-</text>
<text x="1462.9" y="255.4" font-size="5.1" fill="#fff" stroke="#C8FF3C" stroke-width="0.13">containing</text>
<text x="1462.8" y="260.4" font-size="5.1" fill="#fff" stroke="#C8FF3C" stroke-width="0.13">secondary</text>
<text x="1462.0" y="265.3" font-size="5.1" fill="#fff" stroke="#C8FF3C" stroke-width="0.13">compounds</text>
<text x="1511.1" y="247.6" font-size="4.9" fill="#000">flavonoid</text>
<text x="1506.2" y="253.1" font-size="4.9" fill="#000">glycosylation</text>
<text x="1510.6" y="247.1" font-size="4.9" fill="#fff" stroke="#C8F033" stroke-width="0.12">flavonoid</text>
<text x="1505.7" y="252.6" font-size="4.9" fill="#fff" stroke="#C8F033" stroke-width="0.12">glycosylation</text>
<text x="1500.4" y="277.1" font-size="5.4" fill="#000">phenolics</text>
<text x="1499.9" y="276.6" font-size="5.4" fill="#fff" stroke="#C8FF3C" stroke-width="0.14">phenolics</text>
<text x="1553.0" y="212.5" font-size="3.9" fill="#000">lignin</text>
<text x="1545.9" y="215.8" font-size="3.9" fill="#000">biosynthesis</text>
<text x="1552.5" y="212.0" font-size="3.9" fill="#fff" stroke="#C8FF3C" stroke-width="0.1">lignin</text>
<text x="1545.4" y="215.3" font-size="3.9" fill="#fff" stroke="#C8FF3C" stroke-width="0.1">biosynthesis</text>
<text x="1367.6" y="177.7" font-size="5.1" fill="#000">alkaloids</text>
<text x="1367.1" y="177.2" font-size="5.1" fill="#fff" stroke="#C8FF3C" stroke-width="0.13">alkaloids</text>
<text x="1364.7" y="140.0" font-size="4.0" fill="#000">isoprenoids</text>
<text x="1364.2" y="139.5" font-size="4.0" fill="#fff" stroke="#C8FF3C" stroke-width="0.1">isoprenoids</text>
<text x="1615.0" y="15.7" font-size="5.1" fill="#000">betaines</text>
<text x="1614.5" y="15.2" font-size="5.1" fill="#fff" stroke="#C8F540" stroke-width="0.13">betaines</text>
<text x="1431.9" y="269.7" font-size="3.3" fill="#000">shikimate</text>
<text x="1429.7" y="273.3" font-size="3.3" fill="#000">biosynthesis</text>
<text x="1431.4" y="269.2" font-size="3.3" fill="#fff" stroke="#D0FF60" stroke-width="0.08">shikimate</text>
<text x="1429.2" y="272.8" font-size="3.3" fill="#fff" stroke="#D0FF60" stroke-width="0.08">biosynthesis</text>
<text x="1544.8" y="270.8" font-size="2.8" fill="#000">not</text>
<text x="1540.5" y="273.5" font-size="2.8" fill="#000">assigned</text>
<text x="1544.3" y="270.3" font-size="2.8" fill="#fff" stroke="#C8FF3C" stroke-width="0.07">not</text>
<text x="1540.0" y="273.0" font-size="2.8" fill="#fff" stroke="#C8FF3C" stroke-width="0.07">assigned</text>
<text x="1584.0" y="143.3" font-size="2.6" fill="#000">simple</text>
<text x="1582.6" y="146.3" font-size="2.6" fill="#000">phenols</text>
<text x="1583.5" y="142.8" font-size="2.6" fill="#fff" stroke="#C8FF3C" stroke-width="0.06">simple</text>
<text x="1582.1" y="145.8" font-size="2.6" fill="#fff" stroke="#C8FF3C" stroke-width="0.06">phenols</text>
<text x="1462.1" y="21.7" font-size="3.0" fill="#000">anthocyanins</text>
<text x="1461.6" y="21.2" font-size="3.0" fill="#fff" stroke="#C8FF3C" stroke-width="0.07">anthocyanins</text>
<text x="1488.6" y="26.2" font-size="2.4" fill="#000">carotenoids</text>
<text x="1488.1" y="25.7" font-size="2.4" fill="#fff" stroke="#C8FF3C" stroke-width="0.06">carotenoids</text>
<text x="1406.4" y="270.5" font-size="2.6" fill="#000">tocopherol</text>
<text x="1405.9" y="270.0" font-size="2.6" fill="#fff" stroke="#C8FF3C" stroke-width="0.07">tocopherol</text>
<text x="114.3" y="27.5" font-size="2.8" fill="#000">protease inhibitor/</text>
<text x="115.9" y="31.4" font-size="2.8" fill="#000">seed storage/lipid</text>
<text x="116.8" y="34.5" font-size="2.8" fill="#000">transfer protein</text>
<text x="121.6" y="38.5" font-size="2.8" fill="#000">(LTP) family</text>
<text x="126.2" y="41.5" font-size="2.8" fill="#000">protein</text>
<text x="113.8" y="27.0" font-size="2.8" fill="#fff" stroke="#0000FF" stroke-width="0.07">protease inhibitor/</text>
<text x="115.4" y="30.9" font-size="2.8" fill="#fff" stroke="#0000FF" stroke-width="0.07">seed storage/lipid</text>
<text x="116.3" y="34.0" font-size="2.8" fill="#fff" stroke="#0000FF" stroke-width="0.07">transfer protein</text>
<text x="121.1" y="38.0" font-size="2.8" fill="#fff" stroke="#0000FF" stroke-width="0.07">(LTP) family</text>
<text x="125.7" y="41.0" font-size="2.8" fill="#fff" stroke="#0000FF" stroke-width="0.07">protein</text>
<text x="607.5" y="20.2" font-size="5.9" fill="#000">Membrane</text>
<text x="603.4" y="25.9" font-size="5.9" fill="#000">organization</text>
<text x="607.0" y="19.7" font-size="5.9" fill="#fff" stroke="#FFE6FA" stroke-width="0.15">Membrane</text>
<text x="602.9" y="25.4" font-size="5.9" fill="#fff" stroke="#FFE6FA" stroke-width="0.15">organization</text>
<text x="952.6" y="2489.3" font-size="2.9" fill="#000">prolamin</text>
<text x="952.1" y="2488.8" font-size="2.9" fill="#fff" stroke="#963270" stroke-width="0.07">prolamin</text>
<text x="965.2" y="2500.1" font-size="4.0" fill="#000">albumin</text>
<text x="964.7" y="2499.6" font-size="4.0" fill="#fff" stroke="#963240" stroke-width="0.1">albumin</text>
<text x="12.7" y="930.4" font-size="4.1" fill="#000">glutathione</text>
<text x="12.1" y="933.8" font-size="4.1" fill="#000">metabolism</text>
<text x="12.2" y="929.9" font-size="4.1" fill="#fff" stroke="#FFBBFF" stroke-width="0.1">glutathione</text>
<text x="11.6" y="933.3" font-size="4.1" fill="#fff" stroke="#FFBBFF" stroke-width="0.1">metabolism</text>
<text x="14.2" y="978.0" font-size="2.8" fill="#000">ascorbate</text>
<text x="18.9" y="980.8" font-size="2.8" fill="#000">and</text>
<text x="12.6" y="983.9" font-size="2.8" fill="#000">glutathione</text>
<text x="13.7" y="977.5" font-size="2.8" fill="#fff" stroke="#FF00FF" stroke-width="0.07">ascorbate</text>
<text x="18.4" y="980.3" font-size="2.8" fill="#fff" stroke="#FF00FF" stroke-width="0.07">and</text>
<text x="12.1" y="983.4" font-size="2.8" fill="#fff" stroke="#FF00FF" stroke-width="0.07">glutathione</text>
<text x="163.6" y="1032.1" font-size="2.7" fill="#000">14-3-3</text>
<text x="162.3" y="1034.9" font-size="2.7" fill="#000">proteins</text>
<text x="163.1" y="1031.6" font-size="2.7" fill="#fff" stroke="#D49008" stroke-width="0.07">14-3-3</text>
<text x="161.8" y="1034.4" font-size="2.7" fill="#fff" stroke="#D49008" stroke-width="0.07">proteins</text>
<text x="14.5" y="1215.7" font-size="2.8" fill="#000">tocopherol</text>
<text x="13.2" y="1218.8" font-size="2.8" fill="#000">biosynthesis</text>
<text x="14.0" y="1215.2" font-size="2.8" fill="#fff" stroke="#FF10A0" stroke-width="0.07">tocopherol</text>
<text x="12.7" y="1218.3" font-size="2.8" fill="#fff" stroke="#FF10A0" stroke-width="0.07">biosynthesis</text>
<text x="56.7" y="1206.0" font-size="3.0" fill="#000">ascorbate</text>
<text x="54.1" y="1210.2" font-size="3.0" fill="#000">biosynthesis</text>
<text x="56.2" y="1205.5" font-size="3.0" fill="#fff" stroke="#FF20FF" stroke-width="0.08">ascorbate</text>
<text x="53.6" y="1209.7" font-size="3.0" fill="#fff" stroke="#FF20FF" stroke-width="0.08">biosynthesis</text>
<text x="35.0" y="1210.7" font-size="2.3" fill="#000">proline</text>
<text x="33.2" y="1214.3" font-size="2.3" fill="#000">synthesis</text>
<text x="34.5" y="1210.2" font-size="2.3" fill="#fff" stroke="#FF10FF" stroke-width="0.06">proline</text>
<text x="32.7" y="1213.8" font-size="2.3" fill="#fff" stroke="#FF10FF" stroke-width="0.06">synthesis</text>
<text x="18.9" y="1690.5" font-size="1.9" fill="#000">RNA</text>
<text x="12.9" y="1692.7" font-size="1.9" fill="#000">transcription</text>
<text x="18.4" y="1690.0" font-size="1.9" fill="#fff" stroke="#FF6448" stroke-width="0.05">RNA</text>
<text x="12.4" y="1692.2" font-size="1.9" fill="#fff" stroke="#FF6448" stroke-width="0.05">transcription</text>
</g>
</svg></body></html>
